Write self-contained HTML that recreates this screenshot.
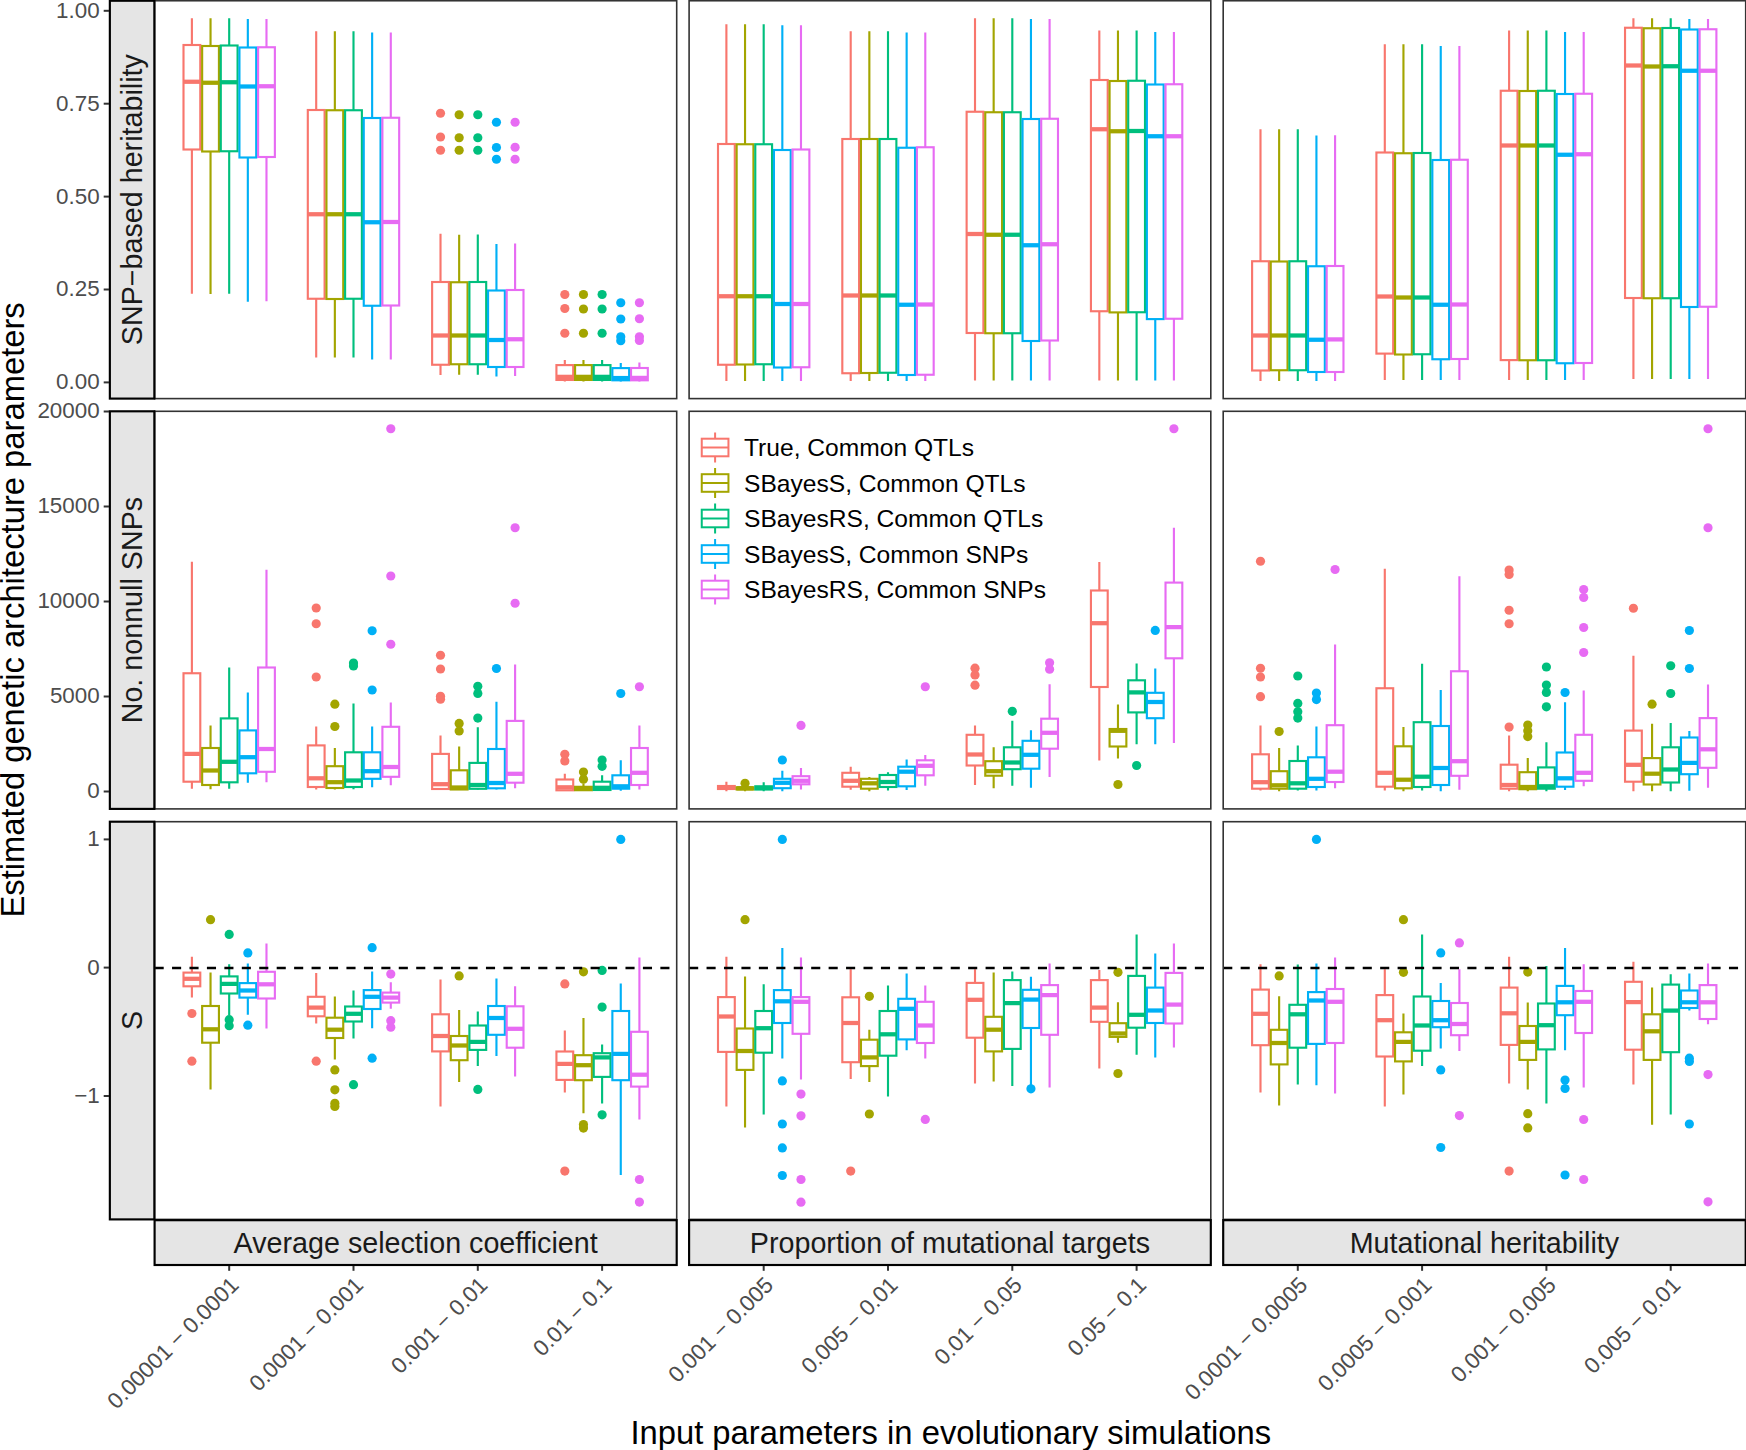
<!DOCTYPE html>
<html lang="en"><head><meta charset="utf-8"><title>Estimated genetic architecture parameters</title>
<style>html,body{margin:0;padding:0;background:#fff}svg{display:block}</style></head>
<body>
<svg width="1746" height="1450" viewBox="0 0 1746 1450" font-family="'Liberation Sans', sans-serif">
<rect width="1746" height="1450" fill="#fff"/>
<g>
<path d="M191.89 18.25V45M191.89 149.5V293.75" stroke="#F8766D" stroke-width="2.13" fill="none"/>
<rect x="183.5" y="45" width="16.78" height="104.5" fill="#fff" stroke="#F8766D" stroke-width="2.13"/>
<line x1="183.5" x2="200.28" y1="81.75" y2="81.75" stroke="#F8766D" stroke-width="4.26"/>
<path d="M210.54 18.25V46M210.54 151.5V294" stroke="#A3A500" stroke-width="2.13" fill="none"/>
<rect x="202.15" y="46" width="16.78" height="105.5" fill="#fff" stroke="#A3A500" stroke-width="2.13"/>
<line x1="202.15" x2="218.93" y1="82.75" y2="82.75" stroke="#A3A500" stroke-width="4.26"/>
<path d="M229.19 18.25V45.5M229.19 151.25V293.75" stroke="#00BF7D" stroke-width="2.13" fill="none"/>
<rect x="220.79" y="45.5" width="16.78" height="105.75" fill="#fff" stroke="#00BF7D" stroke-width="2.13"/>
<line x1="220.79" x2="237.58" y1="82.25" y2="82.25" stroke="#00BF7D" stroke-width="4.26"/>
<path d="M247.83 19V47.5M247.83 157.5V301.75" stroke="#00B0F6" stroke-width="2.13" fill="none"/>
<rect x="239.44" y="47.5" width="16.78" height="110" fill="#fff" stroke="#00B0F6" stroke-width="2.13"/>
<line x1="239.44" x2="256.22" y1="86.5" y2="86.5" stroke="#00B0F6" stroke-width="4.26"/>
<path d="M266.48 19V47.25M266.48 157V301.25" stroke="#E76BF3" stroke-width="2.13" fill="none"/>
<rect x="258.09" y="47.25" width="16.78" height="109.75" fill="#fff" stroke="#E76BF3" stroke-width="2.13"/>
<line x1="258.09" x2="274.87" y1="86.25" y2="86.25" stroke="#E76BF3" stroke-width="4.26"/>
<path d="M316.2 31.25V110M316.2 298.75V357.5" stroke="#F8766D" stroke-width="2.13" fill="none"/>
<rect x="307.81" y="110" width="16.78" height="188.75" fill="#fff" stroke="#F8766D" stroke-width="2.13"/>
<line x1="307.81" x2="324.59" y1="214.25" y2="214.25" stroke="#F8766D" stroke-width="4.26"/>
<path d="M334.85 31.25V110.25M334.85 299V357.5" stroke="#A3A500" stroke-width="2.13" fill="none"/>
<rect x="326.46" y="110.25" width="16.78" height="188.75" fill="#fff" stroke="#A3A500" stroke-width="2.13"/>
<line x1="326.46" x2="343.24" y1="214.25" y2="214.25" stroke="#A3A500" stroke-width="4.26"/>
<path d="M353.5 31.25V110.25M353.5 298.75V357.5" stroke="#00BF7D" stroke-width="2.13" fill="none"/>
<rect x="345.1" y="110.25" width="16.78" height="188.5" fill="#fff" stroke="#00BF7D" stroke-width="2.13"/>
<line x1="345.1" x2="361.89" y1="214.25" y2="214.25" stroke="#00BF7D" stroke-width="4.26"/>
<path d="M372.14 32.5V118M372.14 305.75V359.5" stroke="#00B0F6" stroke-width="2.13" fill="none"/>
<rect x="363.75" y="118" width="16.78" height="187.75" fill="#fff" stroke="#00B0F6" stroke-width="2.13"/>
<line x1="363.75" x2="380.53" y1="222.25" y2="222.25" stroke="#00B0F6" stroke-width="4.26"/>
<path d="M390.79 32.5V117.75M390.79 305.5V359.5" stroke="#E76BF3" stroke-width="2.13" fill="none"/>
<rect x="382.4" y="117.75" width="16.78" height="187.75" fill="#fff" stroke="#E76BF3" stroke-width="2.13"/>
<line x1="382.4" x2="399.18" y1="222" y2="222" stroke="#E76BF3" stroke-width="4.26"/>
<circle cx="440.51" cy="113.25" r="4.6" fill="#F8766D"/>
<circle cx="440.51" cy="137" r="4.6" fill="#F8766D"/>
<circle cx="440.51" cy="150.25" r="4.6" fill="#F8766D"/>
<path d="M440.51 233.75V282M440.51 364.75V375" stroke="#F8766D" stroke-width="2.13" fill="none"/>
<rect x="432.12" y="282" width="16.78" height="82.75" fill="#fff" stroke="#F8766D" stroke-width="2.13"/>
<line x1="432.12" x2="448.9" y1="335.5" y2="335.5" stroke="#F8766D" stroke-width="4.26"/>
<circle cx="459.16" cy="114.75" r="4.6" fill="#A3A500"/>
<circle cx="459.16" cy="137.75" r="4.6" fill="#A3A500"/>
<circle cx="459.16" cy="150.25" r="4.6" fill="#A3A500"/>
<path d="M459.16 234.75V282.25M459.16 364.25V374.75" stroke="#A3A500" stroke-width="2.13" fill="none"/>
<rect x="450.77" y="282.25" width="16.78" height="82" fill="#fff" stroke="#A3A500" stroke-width="2.13"/>
<line x1="450.77" x2="467.55" y1="335.5" y2="335.5" stroke="#A3A500" stroke-width="4.26"/>
<circle cx="477.8" cy="114.75" r="4.6" fill="#00BF7D"/>
<circle cx="477.8" cy="137.75" r="4.6" fill="#00BF7D"/>
<circle cx="477.8" cy="150.25" r="4.6" fill="#00BF7D"/>
<path d="M477.8 234.5V282M477.8 364.25V374.75" stroke="#00BF7D" stroke-width="2.13" fill="none"/>
<rect x="469.41" y="282" width="16.78" height="82.25" fill="#fff" stroke="#00BF7D" stroke-width="2.13"/>
<line x1="469.41" x2="486.2" y1="335.5" y2="335.5" stroke="#00BF7D" stroke-width="4.26"/>
<circle cx="496.45" cy="122.25" r="4.6" fill="#00B0F6"/>
<circle cx="496.45" cy="147.5" r="4.6" fill="#00B0F6"/>
<circle cx="496.45" cy="159.25" r="4.6" fill="#00B0F6"/>
<path d="M496.45 244V290.5M496.45 367V376.5" stroke="#00B0F6" stroke-width="2.13" fill="none"/>
<rect x="488.06" y="290.5" width="16.78" height="76.5" fill="#fff" stroke="#00B0F6" stroke-width="2.13"/>
<line x1="488.06" x2="504.84" y1="340" y2="340" stroke="#00B0F6" stroke-width="4.26"/>
<circle cx="515.1" cy="122.25" r="4.6" fill="#E76BF3"/>
<circle cx="515.1" cy="147.25" r="4.6" fill="#E76BF3"/>
<circle cx="515.1" cy="159.25" r="4.6" fill="#E76BF3"/>
<path d="M515.1 243.5V290M515.1 367V376" stroke="#E76BF3" stroke-width="2.13" fill="none"/>
<rect x="506.71" y="290" width="16.78" height="77" fill="#fff" stroke="#E76BF3" stroke-width="2.13"/>
<line x1="506.71" x2="523.49" y1="339.25" y2="339.25" stroke="#E76BF3" stroke-width="4.26"/>
<circle cx="564.82" cy="294.5" r="4.6" fill="#F8766D"/>
<circle cx="564.82" cy="308.5" r="4.6" fill="#F8766D"/>
<circle cx="564.82" cy="333.25" r="4.6" fill="#F8766D"/>
<path d="M564.82 360V365.1M564.82 379.95V381.4" stroke="#F8766D" stroke-width="2.13" fill="none"/>
<rect x="556.43" y="365.1" width="16.78" height="14.85" fill="#fff" stroke="#F8766D" stroke-width="2.13"/>
<line x1="556.43" x2="573.21" y1="376.85" y2="376.85" stroke="#F8766D" stroke-width="4.26"/>
<circle cx="583.47" cy="294.5" r="4.6" fill="#A3A500"/>
<circle cx="583.47" cy="309" r="4.6" fill="#A3A500"/>
<circle cx="583.47" cy="333.25" r="4.6" fill="#A3A500"/>
<path d="M583.47 360V365.1M583.47 379.95V381.4" stroke="#A3A500" stroke-width="2.13" fill="none"/>
<rect x="575.08" y="365.1" width="16.78" height="14.85" fill="#fff" stroke="#A3A500" stroke-width="2.13"/>
<line x1="575.08" x2="591.86" y1="376.85" y2="376.85" stroke="#A3A500" stroke-width="4.26"/>
<circle cx="602.11" cy="294.5" r="4.6" fill="#00BF7D"/>
<circle cx="602.11" cy="309" r="4.6" fill="#00BF7D"/>
<circle cx="602.11" cy="333.25" r="4.6" fill="#00BF7D"/>
<path d="M602.11 360V365.1M602.11 379.95V381.4" stroke="#00BF7D" stroke-width="2.13" fill="none"/>
<rect x="593.72" y="365.1" width="16.78" height="14.85" fill="#fff" stroke="#00BF7D" stroke-width="2.13"/>
<line x1="593.72" x2="610.51" y1="376.85" y2="376.85" stroke="#00BF7D" stroke-width="4.26"/>
<circle cx="620.76" cy="302.75" r="4.6" fill="#00B0F6"/>
<circle cx="620.76" cy="319" r="4.6" fill="#00B0F6"/>
<circle cx="620.76" cy="336.75" r="4.6" fill="#00B0F6"/>
<circle cx="620.76" cy="340.75" r="4.6" fill="#00B0F6"/>
<path d="M620.76 363V368.1M620.76 380.3V381.4" stroke="#00B0F6" stroke-width="2.13" fill="none"/>
<rect x="612.37" y="368.1" width="16.78" height="12.2" fill="#fff" stroke="#00B0F6" stroke-width="2.13"/>
<line x1="612.37" x2="629.15" y1="378.05" y2="378.05" stroke="#00B0F6" stroke-width="4.26"/>
<circle cx="639.41" cy="302.75" r="4.6" fill="#E76BF3"/>
<circle cx="639.41" cy="318.75" r="4.6" fill="#E76BF3"/>
<circle cx="639.41" cy="336.75" r="4.6" fill="#E76BF3"/>
<circle cx="639.41" cy="340.5" r="4.6" fill="#E76BF3"/>
<path d="M639.41 362.6V368M639.41 380.3V381.4" stroke="#E76BF3" stroke-width="2.13" fill="none"/>
<rect x="631.02" y="368" width="16.78" height="12.3" fill="#fff" stroke="#E76BF3" stroke-width="2.13"/>
<line x1="631.02" x2="647.8" y1="377.9" y2="377.9" stroke="#E76BF3" stroke-width="4.26"/>
</g>
<g>
<path d="M726.39 24.25V144M726.39 364.75V381" stroke="#F8766D" stroke-width="2.13" fill="none"/>
<rect x="718" y="144" width="16.78" height="220.75" fill="#fff" stroke="#F8766D" stroke-width="2.13"/>
<line x1="718" x2="734.78" y1="296.25" y2="296.25" stroke="#F8766D" stroke-width="4.26"/>
<path d="M745.04 24.25V144.25M745.04 364.5V381" stroke="#A3A500" stroke-width="2.13" fill="none"/>
<rect x="736.65" y="144.25" width="16.78" height="220.25" fill="#fff" stroke="#A3A500" stroke-width="2.13"/>
<line x1="736.65" x2="753.43" y1="296.25" y2="296.25" stroke="#A3A500" stroke-width="4.26"/>
<path d="M763.69 24.25V144.25M763.69 364.25V381" stroke="#00BF7D" stroke-width="2.13" fill="none"/>
<rect x="755.29" y="144.25" width="16.78" height="220" fill="#fff" stroke="#00BF7D" stroke-width="2.13"/>
<line x1="755.29" x2="772.08" y1="296.25" y2="296.25" stroke="#00BF7D" stroke-width="4.26"/>
<path d="M782.33 25.25V150M782.33 367.5V381" stroke="#00B0F6" stroke-width="2.13" fill="none"/>
<rect x="773.94" y="150" width="16.78" height="217.5" fill="#fff" stroke="#00B0F6" stroke-width="2.13"/>
<line x1="773.94" x2="790.72" y1="304" y2="304" stroke="#00B0F6" stroke-width="4.26"/>
<path d="M800.98 25.25V149.5M800.98 367.25V381" stroke="#E76BF3" stroke-width="2.13" fill="none"/>
<rect x="792.59" y="149.5" width="16.78" height="217.75" fill="#fff" stroke="#E76BF3" stroke-width="2.13"/>
<line x1="792.59" x2="809.37" y1="304" y2="304" stroke="#E76BF3" stroke-width="4.26"/>
<path d="M850.7 31.25V139M850.7 373.25V381" stroke="#F8766D" stroke-width="2.13" fill="none"/>
<rect x="842.31" y="139" width="16.78" height="234.25" fill="#fff" stroke="#F8766D" stroke-width="2.13"/>
<line x1="842.31" x2="859.09" y1="295.5" y2="295.5" stroke="#F8766D" stroke-width="4.26"/>
<path d="M869.35 31.25V139M869.35 373V381" stroke="#A3A500" stroke-width="2.13" fill="none"/>
<rect x="860.96" y="139" width="16.78" height="234" fill="#fff" stroke="#A3A500" stroke-width="2.13"/>
<line x1="860.96" x2="877.74" y1="295.5" y2="295.5" stroke="#A3A500" stroke-width="4.26"/>
<path d="M888 31.25V139M888 372.75V381" stroke="#00BF7D" stroke-width="2.13" fill="none"/>
<rect x="879.6" y="139" width="16.78" height="233.75" fill="#fff" stroke="#00BF7D" stroke-width="2.13"/>
<line x1="879.6" x2="896.39" y1="295.5" y2="295.5" stroke="#00BF7D" stroke-width="4.26"/>
<path d="M906.64 32.5V147.75M906.64 375V381" stroke="#00B0F6" stroke-width="2.13" fill="none"/>
<rect x="898.25" y="147.75" width="16.78" height="227.25" fill="#fff" stroke="#00B0F6" stroke-width="2.13"/>
<line x1="898.25" x2="915.03" y1="304.75" y2="304.75" stroke="#00B0F6" stroke-width="4.26"/>
<path d="M925.29 32.5V147.25M925.29 374.75V381" stroke="#E76BF3" stroke-width="2.13" fill="none"/>
<rect x="916.9" y="147.25" width="16.78" height="227.5" fill="#fff" stroke="#E76BF3" stroke-width="2.13"/>
<line x1="916.9" x2="933.68" y1="304.5" y2="304.5" stroke="#E76BF3" stroke-width="4.26"/>
<path d="M975.01 18.25V111.75M975.01 333V380.5" stroke="#F8766D" stroke-width="2.13" fill="none"/>
<rect x="966.62" y="111.75" width="16.78" height="221.25" fill="#fff" stroke="#F8766D" stroke-width="2.13"/>
<line x1="966.62" x2="983.4" y1="234" y2="234" stroke="#F8766D" stroke-width="4.26"/>
<path d="M993.66 18.25V112.25M993.66 333.25V380.5" stroke="#A3A500" stroke-width="2.13" fill="none"/>
<rect x="985.27" y="112.25" width="16.78" height="221" fill="#fff" stroke="#A3A500" stroke-width="2.13"/>
<line x1="985.27" x2="1002.05" y1="234.75" y2="234.75" stroke="#A3A500" stroke-width="4.26"/>
<path d="M1012.3 18.25V112.25M1012.3 333.25V380.5" stroke="#00BF7D" stroke-width="2.13" fill="none"/>
<rect x="1003.91" y="112.25" width="16.78" height="221" fill="#fff" stroke="#00BF7D" stroke-width="2.13"/>
<line x1="1003.91" x2="1020.7" y1="234.75" y2="234.75" stroke="#00BF7D" stroke-width="4.26"/>
<path d="M1030.95 19V119M1030.95 341V380.5" stroke="#00B0F6" stroke-width="2.13" fill="none"/>
<rect x="1022.56" y="119" width="16.78" height="222" fill="#fff" stroke="#00B0F6" stroke-width="2.13"/>
<line x1="1022.56" x2="1039.34" y1="245.25" y2="245.25" stroke="#00B0F6" stroke-width="4.26"/>
<path d="M1049.6 19V118.75M1049.6 340.5V380.5" stroke="#E76BF3" stroke-width="2.13" fill="none"/>
<rect x="1041.21" y="118.75" width="16.78" height="221.75" fill="#fff" stroke="#E76BF3" stroke-width="2.13"/>
<line x1="1041.21" x2="1057.99" y1="244.25" y2="244.25" stroke="#E76BF3" stroke-width="4.26"/>
<path d="M1099.32 30.5V80M1099.32 311.25V380.5" stroke="#F8766D" stroke-width="2.13" fill="none"/>
<rect x="1090.93" y="80" width="16.78" height="231.25" fill="#fff" stroke="#F8766D" stroke-width="2.13"/>
<line x1="1090.93" x2="1107.71" y1="129.25" y2="129.25" stroke="#F8766D" stroke-width="4.26"/>
<path d="M1117.97 30.5V81M1117.97 312.4V380.5" stroke="#A3A500" stroke-width="2.13" fill="none"/>
<rect x="1109.58" y="81" width="16.78" height="231.4" fill="#fff" stroke="#A3A500" stroke-width="2.13"/>
<line x1="1109.58" x2="1126.36" y1="131.25" y2="131.25" stroke="#A3A500" stroke-width="4.26"/>
<path d="M1136.61 30.5V80.75M1136.61 312.25V380.5" stroke="#00BF7D" stroke-width="2.13" fill="none"/>
<rect x="1128.22" y="80.75" width="16.78" height="231.5" fill="#fff" stroke="#00BF7D" stroke-width="2.13"/>
<line x1="1128.22" x2="1145.01" y1="131" y2="131" stroke="#00BF7D" stroke-width="4.26"/>
<path d="M1155.26 32V84.5M1155.26 319.1V380.5" stroke="#00B0F6" stroke-width="2.13" fill="none"/>
<rect x="1146.87" y="84.5" width="16.78" height="234.6" fill="#fff" stroke="#00B0F6" stroke-width="2.13"/>
<line x1="1146.87" x2="1163.65" y1="136.25" y2="136.25" stroke="#00B0F6" stroke-width="4.26"/>
<path d="M1173.91 32V84.25M1173.91 318.75V380.5" stroke="#E76BF3" stroke-width="2.13" fill="none"/>
<rect x="1165.52" y="84.25" width="16.78" height="234.5" fill="#fff" stroke="#E76BF3" stroke-width="2.13"/>
<line x1="1165.52" x2="1182.3" y1="136.25" y2="136.25" stroke="#E76BF3" stroke-width="4.26"/>
</g>
<g>
<path d="M1260.49 129.25V261.25M1260.49 370.5V381" stroke="#F8766D" stroke-width="2.13" fill="none"/>
<rect x="1252.1" y="261.25" width="16.78" height="109.25" fill="#fff" stroke="#F8766D" stroke-width="2.13"/>
<line x1="1252.1" x2="1268.88" y1="335.5" y2="335.5" stroke="#F8766D" stroke-width="4.26"/>
<path d="M1279.14 129.25V261.5M1279.14 370.25V381" stroke="#A3A500" stroke-width="2.13" fill="none"/>
<rect x="1270.75" y="261.5" width="16.78" height="108.75" fill="#fff" stroke="#A3A500" stroke-width="2.13"/>
<line x1="1270.75" x2="1287.53" y1="335.5" y2="335.5" stroke="#A3A500" stroke-width="4.26"/>
<path d="M1297.79 129.25V261.25M1297.79 370.25V381" stroke="#00BF7D" stroke-width="2.13" fill="none"/>
<rect x="1289.39" y="261.25" width="16.78" height="109" fill="#fff" stroke="#00BF7D" stroke-width="2.13"/>
<line x1="1289.39" x2="1306.18" y1="335.5" y2="335.5" stroke="#00BF7D" stroke-width="4.26"/>
<path d="M1316.43 135.5V266.25M1316.43 372V381" stroke="#00B0F6" stroke-width="2.13" fill="none"/>
<rect x="1308.04" y="266.25" width="16.78" height="105.75" fill="#fff" stroke="#00B0F6" stroke-width="2.13"/>
<line x1="1308.04" x2="1324.82" y1="339.75" y2="339.75" stroke="#00B0F6" stroke-width="4.26"/>
<path d="M1335.08 135.25V266M1335.08 372V381" stroke="#E76BF3" stroke-width="2.13" fill="none"/>
<rect x="1326.69" y="266" width="16.78" height="106" fill="#fff" stroke="#E76BF3" stroke-width="2.13"/>
<line x1="1326.69" x2="1343.47" y1="339.4" y2="339.4" stroke="#E76BF3" stroke-width="4.26"/>
<path d="M1384.8 44.25V152.5M1384.8 353.6V380" stroke="#F8766D" stroke-width="2.13" fill="none"/>
<rect x="1376.41" y="152.5" width="16.78" height="201.1" fill="#fff" stroke="#F8766D" stroke-width="2.13"/>
<line x1="1376.41" x2="1393.19" y1="296.5" y2="296.5" stroke="#F8766D" stroke-width="4.26"/>
<path d="M1403.45 44.25V153.25M1403.45 354.5V380" stroke="#A3A500" stroke-width="2.13" fill="none"/>
<rect x="1395.06" y="153.25" width="16.78" height="201.25" fill="#fff" stroke="#A3A500" stroke-width="2.13"/>
<line x1="1395.06" x2="1411.84" y1="297.5" y2="297.5" stroke="#A3A500" stroke-width="4.26"/>
<path d="M1422.1 44.25V153M1422.1 354.25V380" stroke="#00BF7D" stroke-width="2.13" fill="none"/>
<rect x="1413.7" y="153" width="16.78" height="201.25" fill="#fff" stroke="#00BF7D" stroke-width="2.13"/>
<line x1="1413.7" x2="1430.49" y1="297.5" y2="297.5" stroke="#00BF7D" stroke-width="4.26"/>
<path d="M1440.74 46V160M1440.74 359.25V380" stroke="#00B0F6" stroke-width="2.13" fill="none"/>
<rect x="1432.35" y="160" width="16.78" height="199.25" fill="#fff" stroke="#00B0F6" stroke-width="2.13"/>
<line x1="1432.35" x2="1449.13" y1="304.75" y2="304.75" stroke="#00B0F6" stroke-width="4.26"/>
<path d="M1459.39 46V159.75M1459.39 359V380" stroke="#E76BF3" stroke-width="2.13" fill="none"/>
<rect x="1451" y="159.75" width="16.78" height="199.25" fill="#fff" stroke="#E76BF3" stroke-width="2.13"/>
<line x1="1451" x2="1467.78" y1="304.5" y2="304.5" stroke="#E76BF3" stroke-width="4.26"/>
<path d="M1509.11 30.5V90.75M1509.11 360.1V380" stroke="#F8766D" stroke-width="2.13" fill="none"/>
<rect x="1500.72" y="90.75" width="16.78" height="269.35" fill="#fff" stroke="#F8766D" stroke-width="2.13"/>
<line x1="1500.72" x2="1517.5" y1="145.5" y2="145.5" stroke="#F8766D" stroke-width="4.26"/>
<path d="M1527.76 30.5V91M1527.76 360.25V380" stroke="#A3A500" stroke-width="2.13" fill="none"/>
<rect x="1519.37" y="91" width="16.78" height="269.25" fill="#fff" stroke="#A3A500" stroke-width="2.13"/>
<line x1="1519.37" x2="1536.15" y1="145.5" y2="145.5" stroke="#A3A500" stroke-width="4.26"/>
<path d="M1546.4 30.5V90.75M1546.4 360.25V380" stroke="#00BF7D" stroke-width="2.13" fill="none"/>
<rect x="1538.01" y="90.75" width="16.78" height="269.5" fill="#fff" stroke="#00BF7D" stroke-width="2.13"/>
<line x1="1538.01" x2="1554.8" y1="145.5" y2="145.5" stroke="#00BF7D" stroke-width="4.26"/>
<path d="M1565.05 32V94M1565.05 363.25V380" stroke="#00B0F6" stroke-width="2.13" fill="none"/>
<rect x="1556.66" y="94" width="16.78" height="269.25" fill="#fff" stroke="#00B0F6" stroke-width="2.13"/>
<line x1="1556.66" x2="1573.44" y1="154.75" y2="154.75" stroke="#00B0F6" stroke-width="4.26"/>
<path d="M1583.7 32V93.75M1583.7 363V380" stroke="#E76BF3" stroke-width="2.13" fill="none"/>
<rect x="1575.31" y="93.75" width="16.78" height="269.25" fill="#fff" stroke="#E76BF3" stroke-width="2.13"/>
<line x1="1575.31" x2="1592.09" y1="154.25" y2="154.25" stroke="#E76BF3" stroke-width="4.26"/>
<path d="M1633.42 18.25V27.75M1633.42 298V379" stroke="#F8766D" stroke-width="2.13" fill="none"/>
<rect x="1625.03" y="27.75" width="16.78" height="270.25" fill="#fff" stroke="#F8766D" stroke-width="2.13"/>
<line x1="1625.03" x2="1641.81" y1="65.5" y2="65.5" stroke="#F8766D" stroke-width="4.26"/>
<path d="M1652.07 18.25V28.25M1652.07 298.25V379" stroke="#A3A500" stroke-width="2.13" fill="none"/>
<rect x="1643.68" y="28.25" width="16.78" height="270" fill="#fff" stroke="#A3A500" stroke-width="2.13"/>
<line x1="1643.68" x2="1660.46" y1="66.5" y2="66.5" stroke="#A3A500" stroke-width="4.26"/>
<path d="M1670.71 18.25V28M1670.71 298.25V379" stroke="#00BF7D" stroke-width="2.13" fill="none"/>
<rect x="1662.32" y="28" width="16.78" height="270.25" fill="#fff" stroke="#00BF7D" stroke-width="2.13"/>
<line x1="1662.32" x2="1679.11" y1="66.25" y2="66.25" stroke="#00BF7D" stroke-width="4.26"/>
<path d="M1689.36 19V29.5M1689.36 307V379" stroke="#00B0F6" stroke-width="2.13" fill="none"/>
<rect x="1680.97" y="29.5" width="16.78" height="277.5" fill="#fff" stroke="#00B0F6" stroke-width="2.13"/>
<line x1="1680.97" x2="1697.75" y1="70.75" y2="70.75" stroke="#00B0F6" stroke-width="4.26"/>
<path d="M1708.01 19V29.25M1708.01 306.75V379" stroke="#E76BF3" stroke-width="2.13" fill="none"/>
<rect x="1699.62" y="29.25" width="16.78" height="277.5" fill="#fff" stroke="#E76BF3" stroke-width="2.13"/>
<line x1="1699.62" x2="1716.4" y1="70.75" y2="70.75" stroke="#E76BF3" stroke-width="4.26"/>
</g>
<g>
<path d="M191.89 561.75V673.25M191.89 781.7V788.8" stroke="#F8766D" stroke-width="2.13" fill="none"/>
<rect x="183.5" y="673.25" width="16.78" height="108.45" fill="#fff" stroke="#F8766D" stroke-width="2.13"/>
<line x1="183.5" x2="200.28" y1="753.9" y2="753.9" stroke="#F8766D" stroke-width="4.26"/>
<path d="M210.54 725.5V748M210.54 785V789.2" stroke="#A3A500" stroke-width="2.13" fill="none"/>
<rect x="202.15" y="748" width="16.78" height="37" fill="#fff" stroke="#A3A500" stroke-width="2.13"/>
<line x1="202.15" x2="218.93" y1="770.5" y2="770.5" stroke="#A3A500" stroke-width="4.26"/>
<path d="M229.19 667.5V718.4M229.19 782.3V788.8" stroke="#00BF7D" stroke-width="2.13" fill="none"/>
<rect x="220.79" y="718.4" width="16.78" height="63.9" fill="#fff" stroke="#00BF7D" stroke-width="2.13"/>
<line x1="220.79" x2="237.58" y1="761.8" y2="761.8" stroke="#00BF7D" stroke-width="4.26"/>
<path d="M247.83 692.5V730.4M247.83 773.3V782.7" stroke="#00B0F6" stroke-width="2.13" fill="none"/>
<rect x="239.44" y="730.4" width="16.78" height="42.9" fill="#fff" stroke="#00B0F6" stroke-width="2.13"/>
<line x1="239.44" x2="256.22" y1="757.2" y2="757.2" stroke="#00B0F6" stroke-width="4.26"/>
<path d="M266.48 569.75V667.5M266.48 771.8V782.2" stroke="#E76BF3" stroke-width="2.13" fill="none"/>
<rect x="258.09" y="667.5" width="16.78" height="104.3" fill="#fff" stroke="#E76BF3" stroke-width="2.13"/>
<line x1="258.09" x2="274.87" y1="749" y2="749" stroke="#E76BF3" stroke-width="4.26"/>
<circle cx="316.2" cy="608" r="4.6" fill="#F8766D"/>
<circle cx="316.2" cy="623.75" r="4.6" fill="#F8766D"/>
<circle cx="316.2" cy="677" r="4.6" fill="#F8766D"/>
<path d="M316.2 726.6V745.4M316.2 787V789.5" stroke="#F8766D" stroke-width="2.13" fill="none"/>
<rect x="307.81" y="745.4" width="16.78" height="41.6" fill="#fff" stroke="#F8766D" stroke-width="2.13"/>
<line x1="307.81" x2="324.59" y1="778.3" y2="778.3" stroke="#F8766D" stroke-width="4.26"/>
<circle cx="334.85" cy="704.2" r="4.6" fill="#A3A500"/>
<circle cx="334.85" cy="726.5" r="4.6" fill="#A3A500"/>
<path d="M334.85 748V766.2M334.85 788V789.5" stroke="#A3A500" stroke-width="2.13" fill="none"/>
<rect x="326.46" y="766.2" width="16.78" height="21.8" fill="#fff" stroke="#A3A500" stroke-width="2.13"/>
<line x1="326.46" x2="343.24" y1="782.2" y2="782.2" stroke="#A3A500" stroke-width="4.26"/>
<circle cx="353.5" cy="663" r="4.6" fill="#00BF7D"/>
<circle cx="353.5" cy="666" r="4.6" fill="#00BF7D"/>
<path d="M353.5 703.5V752.3M353.5 787V789.3" stroke="#00BF7D" stroke-width="2.13" fill="none"/>
<rect x="345.1" y="752.3" width="16.78" height="34.7" fill="#fff" stroke="#00BF7D" stroke-width="2.13"/>
<line x1="345.1" x2="361.89" y1="780.5" y2="780.5" stroke="#00BF7D" stroke-width="4.26"/>
<circle cx="372.14" cy="630.75" r="4.6" fill="#00B0F6"/>
<circle cx="372.14" cy="690" r="4.6" fill="#00B0F6"/>
<path d="M372.14 726.6V752.3M372.14 778.8V787.2" stroke="#00B0F6" stroke-width="2.13" fill="none"/>
<rect x="363.75" y="752.3" width="16.78" height="26.5" fill="#fff" stroke="#00B0F6" stroke-width="2.13"/>
<line x1="363.75" x2="380.53" y1="771.2" y2="771.2" stroke="#00B0F6" stroke-width="4.26"/>
<circle cx="390.79" cy="428.75" r="4.6" fill="#E76BF3"/>
<circle cx="390.79" cy="576" r="4.6" fill="#E76BF3"/>
<circle cx="390.79" cy="644.25" r="4.6" fill="#E76BF3"/>
<path d="M390.79 702.4V726.8M390.79 776.8V785.3" stroke="#E76BF3" stroke-width="2.13" fill="none"/>
<rect x="382.4" y="726.8" width="16.78" height="50" fill="#fff" stroke="#E76BF3" stroke-width="2.13"/>
<line x1="382.4" x2="399.18" y1="767" y2="767" stroke="#E76BF3" stroke-width="4.26"/>
<circle cx="440.51" cy="655.25" r="4.6" fill="#F8766D"/>
<circle cx="440.51" cy="669" r="4.6" fill="#F8766D"/>
<circle cx="440.51" cy="696.25" r="4.6" fill="#F8766D"/>
<circle cx="440.51" cy="699.25" r="4.6" fill="#F8766D"/>
<path d="M440.51 735.5V753.9M440.51 789V789.6" stroke="#F8766D" stroke-width="2.13" fill="none"/>
<rect x="432.12" y="753.9" width="16.78" height="35.1" fill="#fff" stroke="#F8766D" stroke-width="2.13"/>
<line x1="432.12" x2="448.9" y1="784.2" y2="784.2" stroke="#F8766D" stroke-width="4.26"/>
<circle cx="459.16" cy="723.4" r="4.6" fill="#A3A500"/>
<circle cx="459.16" cy="731" r="4.6" fill="#A3A500"/>
<path d="M459.16 746.4V770.3M459.16 789.5V790" stroke="#A3A500" stroke-width="2.13" fill="none"/>
<rect x="450.77" y="770.3" width="16.78" height="19.2" fill="#fff" stroke="#A3A500" stroke-width="2.13"/>
<line x1="450.77" x2="467.55" y1="787.5" y2="787.5" stroke="#A3A500" stroke-width="4.26"/>
<circle cx="477.8" cy="686.25" r="4.6" fill="#00BF7D"/>
<circle cx="477.8" cy="693.5" r="4.6" fill="#00BF7D"/>
<circle cx="477.8" cy="718.1" r="4.6" fill="#00BF7D"/>
<path d="M477.8 727.2V762.9M477.8 788.8V789.6" stroke="#00BF7D" stroke-width="2.13" fill="none"/>
<rect x="469.41" y="762.9" width="16.78" height="25.9" fill="#fff" stroke="#00BF7D" stroke-width="2.13"/>
<line x1="469.41" x2="486.2" y1="785" y2="785" stroke="#00BF7D" stroke-width="4.26"/>
<circle cx="496.45" cy="668.5" r="4.6" fill="#00B0F6"/>
<path d="M496.45 701.8V749M496.45 788.3V789.5" stroke="#00B0F6" stroke-width="2.13" fill="none"/>
<rect x="488.06" y="749" width="16.78" height="39.3" fill="#fff" stroke="#00B0F6" stroke-width="2.13"/>
<line x1="488.06" x2="504.84" y1="783" y2="783" stroke="#00B0F6" stroke-width="4.26"/>
<circle cx="515.1" cy="527.75" r="4.6" fill="#E76BF3"/>
<circle cx="515.1" cy="603.25" r="4.6" fill="#E76BF3"/>
<path d="M515.1 664.5V720.9M515.1 782.7V788.3" stroke="#E76BF3" stroke-width="2.13" fill="none"/>
<rect x="506.71" y="720.9" width="16.78" height="61.8" fill="#fff" stroke="#E76BF3" stroke-width="2.13"/>
<line x1="506.71" x2="523.49" y1="773.8" y2="773.8" stroke="#E76BF3" stroke-width="4.26"/>
<circle cx="564.82" cy="754.3" r="4.6" fill="#F8766D"/>
<circle cx="564.82" cy="761" r="4.6" fill="#F8766D"/>
<path d="M564.82 773.8V779.5M564.82 790.3V790.8" stroke="#F8766D" stroke-width="2.13" fill="none"/>
<rect x="556.43" y="779.5" width="16.78" height="10.8" fill="#fff" stroke="#F8766D" stroke-width="2.13"/>
<line x1="556.43" x2="573.21" y1="787.3" y2="787.3" stroke="#F8766D" stroke-width="4.26"/>
<circle cx="583.47" cy="772" r="4.6" fill="#A3A500"/>
<circle cx="583.47" cy="779.2" r="4.6" fill="#A3A500"/>
<path d="M583.47 783.5V786.8M583.47 790.2V790.8" stroke="#A3A500" stroke-width="2.13" fill="none"/>
<rect x="575.08" y="786.8" width="16.78" height="3.4" fill="#fff" stroke="#A3A500" stroke-width="2.13"/>
<line x1="575.08" x2="591.86" y1="788.7" y2="788.7" stroke="#A3A500" stroke-width="4.26"/>
<circle cx="602.11" cy="760" r="4.6" fill="#00BF7D"/>
<circle cx="602.11" cy="766.3" r="4.6" fill="#00BF7D"/>
<path d="M602.11 775.3V781.7M602.11 790V790.8" stroke="#00BF7D" stroke-width="2.13" fill="none"/>
<rect x="593.72" y="781.7" width="16.78" height="8.3" fill="#fff" stroke="#00BF7D" stroke-width="2.13"/>
<line x1="593.72" x2="610.51" y1="787.8" y2="787.8" stroke="#00BF7D" stroke-width="4.26"/>
<circle cx="620.76" cy="693.5" r="4.6" fill="#00B0F6"/>
<path d="M620.76 760.3V775.3M620.76 788.7V790.8" stroke="#00B0F6" stroke-width="2.13" fill="none"/>
<rect x="612.37" y="775.3" width="16.78" height="13.4" fill="#fff" stroke="#00B0F6" stroke-width="2.13"/>
<line x1="612.37" x2="629.15" y1="786.3" y2="786.3" stroke="#00B0F6" stroke-width="4.26"/>
<circle cx="639.41" cy="686.75" r="4.6" fill="#E76BF3"/>
<path d="M639.41 725.6V748M639.41 785V789.5" stroke="#E76BF3" stroke-width="2.13" fill="none"/>
<rect x="631.02" y="748" width="16.78" height="37" fill="#fff" stroke="#E76BF3" stroke-width="2.13"/>
<line x1="631.02" x2="647.8" y1="772.8" y2="772.8" stroke="#E76BF3" stroke-width="4.26"/>
</g>
<g>
<path d="M726.39 781.7V786M726.39 789V791.2" stroke="#F8766D" stroke-width="2.13" fill="none"/>
<rect x="718" y="786" width="16.78" height="3" fill="#fff" stroke="#F8766D" stroke-width="2.13"/>
<line x1="718" x2="734.78" y1="787.5" y2="787.5" stroke="#F8766D" stroke-width="4.26"/>
<circle cx="745.04" cy="783.3" r="4.6" fill="#A3A500"/>
<path d="M745.04 783V787.3M745.04 789.5V791.2" stroke="#A3A500" stroke-width="2.13" fill="none"/>
<rect x="736.65" y="787.3" width="16.78" height="2.2" fill="#fff" stroke="#A3A500" stroke-width="2.13"/>
<line x1="736.65" x2="753.43" y1="788.3" y2="788.3" stroke="#A3A500" stroke-width="4.26"/>
<path d="M763.69 782.2V786.3M763.69 789.5V791.2" stroke="#00BF7D" stroke-width="2.13" fill="none"/>
<rect x="755.29" y="786.3" width="16.78" height="3.2" fill="#fff" stroke="#00BF7D" stroke-width="2.13"/>
<line x1="755.29" x2="772.08" y1="788" y2="788" stroke="#00BF7D" stroke-width="4.26"/>
<circle cx="782.33" cy="760" r="4.6" fill="#00B0F6"/>
<path d="M782.33 770.8V778.8M782.33 788.2V791.2" stroke="#00B0F6" stroke-width="2.13" fill="none"/>
<rect x="773.94" y="778.8" width="16.78" height="9.4" fill="#fff" stroke="#00B0F6" stroke-width="2.13"/>
<line x1="773.94" x2="790.72" y1="782.8" y2="782.8" stroke="#00B0F6" stroke-width="4.26"/>
<circle cx="800.98" cy="725.4" r="4.6" fill="#E76BF3"/>
<path d="M800.98 768V776.2M800.98 784.3V789.5" stroke="#E76BF3" stroke-width="2.13" fill="none"/>
<rect x="792.59" y="776.2" width="16.78" height="8.1" fill="#fff" stroke="#E76BF3" stroke-width="2.13"/>
<line x1="792.59" x2="809.37" y1="780.8" y2="780.8" stroke="#E76BF3" stroke-width="4.26"/>
<path d="M850.7 766.7V772.8M850.7 786.7V789.7" stroke="#F8766D" stroke-width="2.13" fill="none"/>
<rect x="842.31" y="772.8" width="16.78" height="13.9" fill="#fff" stroke="#F8766D" stroke-width="2.13"/>
<line x1="842.31" x2="859.09" y1="780.8" y2="780.8" stroke="#F8766D" stroke-width="4.26"/>
<path d="M869.35 777V778.8M869.35 788.7V791.2" stroke="#A3A500" stroke-width="2.13" fill="none"/>
<rect x="860.96" y="778.8" width="16.78" height="9.9" fill="#fff" stroke="#A3A500" stroke-width="2.13"/>
<line x1="860.96" x2="877.74" y1="783.3" y2="783.3" stroke="#A3A500" stroke-width="4.26"/>
<path d="M888 772.2V775M888 787V790.5" stroke="#00BF7D" stroke-width="2.13" fill="none"/>
<rect x="879.6" y="775" width="16.78" height="12" fill="#fff" stroke="#00BF7D" stroke-width="2.13"/>
<line x1="879.6" x2="896.39" y1="782" y2="782" stroke="#00BF7D" stroke-width="4.26"/>
<path d="M906.64 759.5V766.7M906.64 786.3V790" stroke="#00B0F6" stroke-width="2.13" fill="none"/>
<rect x="898.25" y="766.7" width="16.78" height="19.6" fill="#fff" stroke="#00B0F6" stroke-width="2.13"/>
<line x1="898.25" x2="915.03" y1="771.7" y2="771.7" stroke="#00B0F6" stroke-width="4.26"/>
<circle cx="925.29" cy="686.75" r="4.6" fill="#E76BF3"/>
<path d="M925.29 755V760.3M925.29 775.3V785.8" stroke="#E76BF3" stroke-width="2.13" fill="none"/>
<rect x="916.9" y="760.3" width="16.78" height="15" fill="#fff" stroke="#E76BF3" stroke-width="2.13"/>
<line x1="916.9" x2="933.68" y1="765.8" y2="765.8" stroke="#E76BF3" stroke-width="4.26"/>
<circle cx="975.01" cy="668.2" r="4.6" fill="#F8766D"/>
<circle cx="975.01" cy="674.9" r="4.6" fill="#F8766D"/>
<circle cx="975.01" cy="685.2" r="4.6" fill="#F8766D"/>
<path d="M975.01 725.5V734.8M975.01 765.5V785.1" stroke="#F8766D" stroke-width="2.13" fill="none"/>
<rect x="966.62" y="734.8" width="16.78" height="30.7" fill="#fff" stroke="#F8766D" stroke-width="2.13"/>
<line x1="966.62" x2="983.4" y1="754.5" y2="754.5" stroke="#F8766D" stroke-width="4.26"/>
<path d="M993.66 747.3V761.2M993.66 775.7V788.2" stroke="#A3A500" stroke-width="2.13" fill="none"/>
<rect x="985.27" y="761.2" width="16.78" height="14.5" fill="#fff" stroke="#A3A500" stroke-width="2.13"/>
<line x1="985.27" x2="1002.05" y1="771.2" y2="771.2" stroke="#A3A500" stroke-width="4.26"/>
<circle cx="1012.3" cy="711.3" r="4.6" fill="#00BF7D"/>
<path d="M1012.3 720.7V747.3M1012.3 769.2V785.7" stroke="#00BF7D" stroke-width="2.13" fill="none"/>
<rect x="1003.91" y="747.3" width="16.78" height="21.9" fill="#fff" stroke="#00BF7D" stroke-width="2.13"/>
<line x1="1003.91" x2="1020.7" y1="762.5" y2="762.5" stroke="#00BF7D" stroke-width="4.26"/>
<path d="M1030.95 730.3V740.8M1030.95 768.7V787.8" stroke="#00B0F6" stroke-width="2.13" fill="none"/>
<rect x="1022.56" y="740.8" width="16.78" height="27.9" fill="#fff" stroke="#00B0F6" stroke-width="2.13"/>
<line x1="1022.56" x2="1039.34" y1="754.8" y2="754.8" stroke="#00B0F6" stroke-width="4.26"/>
<circle cx="1049.6" cy="662.8" r="4.6" fill="#E76BF3"/>
<circle cx="1049.6" cy="669.2" r="4.6" fill="#E76BF3"/>
<path d="M1049.6 684.2V718.7M1049.6 748.7V777" stroke="#E76BF3" stroke-width="2.13" fill="none"/>
<rect x="1041.21" y="718.7" width="16.78" height="30" fill="#fff" stroke="#E76BF3" stroke-width="2.13"/>
<line x1="1041.21" x2="1057.99" y1="732.8" y2="732.8" stroke="#E76BF3" stroke-width="4.26"/>
<path d="M1099.32 561.9V590.5M1099.32 687V760.4" stroke="#F8766D" stroke-width="2.13" fill="none"/>
<rect x="1090.93" y="590.5" width="16.78" height="96.5" fill="#fff" stroke="#F8766D" stroke-width="2.13"/>
<line x1="1090.93" x2="1107.71" y1="623.2" y2="623.2" stroke="#F8766D" stroke-width="4.26"/>
<circle cx="1117.97" cy="784.5" r="4.6" fill="#A3A500"/>
<path d="M1117.97 704.5V729M1117.97 746.5V758.5" stroke="#A3A500" stroke-width="2.13" fill="none"/>
<rect x="1109.58" y="729" width="16.78" height="17.5" fill="#fff" stroke="#A3A500" stroke-width="2.13"/>
<line x1="1109.58" x2="1126.36" y1="730.8" y2="730.8" stroke="#A3A500" stroke-width="4.26"/>
<circle cx="1136.61" cy="765.5" r="4.6" fill="#00BF7D"/>
<path d="M1136.61 663.5V680.3M1136.61 712.4V744.3" stroke="#00BF7D" stroke-width="2.13" fill="none"/>
<rect x="1128.22" y="680.3" width="16.78" height="32.1" fill="#fff" stroke="#00BF7D" stroke-width="2.13"/>
<line x1="1128.22" x2="1145.01" y1="692.4" y2="692.4" stroke="#00BF7D" stroke-width="4.26"/>
<circle cx="1155.26" cy="630.4" r="4.6" fill="#00B0F6"/>
<path d="M1155.26 668.5V692.8M1155.26 718.2V744.3" stroke="#00B0F6" stroke-width="2.13" fill="none"/>
<rect x="1146.87" y="692.8" width="16.78" height="25.4" fill="#fff" stroke="#00B0F6" stroke-width="2.13"/>
<line x1="1146.87" x2="1163.65" y1="702" y2="702" stroke="#00B0F6" stroke-width="4.26"/>
<circle cx="1173.91" cy="428.75" r="4.6" fill="#E76BF3"/>
<path d="M1173.91 527.75V582.6M1173.91 658.3V742.9" stroke="#E76BF3" stroke-width="2.13" fill="none"/>
<rect x="1165.52" y="582.6" width="16.78" height="75.7" fill="#fff" stroke="#E76BF3" stroke-width="2.13"/>
<line x1="1165.52" x2="1182.3" y1="627.1" y2="627.1" stroke="#E76BF3" stroke-width="4.26"/>
</g>
<g>
<circle cx="1260.49" cy="561.25" r="4.6" fill="#F8766D"/>
<circle cx="1260.49" cy="668.25" r="4.6" fill="#F8766D"/>
<circle cx="1260.49" cy="677" r="4.6" fill="#F8766D"/>
<circle cx="1260.49" cy="696.7" r="4.6" fill="#F8766D"/>
<path d="M1260.49 725.6V754.3M1260.49 788.7V790.5" stroke="#F8766D" stroke-width="2.13" fill="none"/>
<rect x="1252.1" y="754.3" width="16.78" height="34.4" fill="#fff" stroke="#F8766D" stroke-width="2.13"/>
<line x1="1252.1" x2="1268.88" y1="782.2" y2="782.2" stroke="#F8766D" stroke-width="4.26"/>
<circle cx="1279.14" cy="731.5" r="4.6" fill="#A3A500"/>
<path d="M1279.14 747.9V771.2M1279.14 788.7V791.2" stroke="#A3A500" stroke-width="2.13" fill="none"/>
<rect x="1270.75" y="771.2" width="16.78" height="17.5" fill="#fff" stroke="#A3A500" stroke-width="2.13"/>
<line x1="1270.75" x2="1287.53" y1="785.3" y2="785.3" stroke="#A3A500" stroke-width="4.26"/>
<circle cx="1297.79" cy="676" r="4.6" fill="#00BF7D"/>
<circle cx="1297.79" cy="703.4" r="4.6" fill="#00BF7D"/>
<circle cx="1297.79" cy="711.8" r="4.6" fill="#00BF7D"/>
<circle cx="1297.79" cy="718.1" r="4.6" fill="#00BF7D"/>
<path d="M1297.79 745.4V761M1297.79 788.7V790.5" stroke="#00BF7D" stroke-width="2.13" fill="none"/>
<rect x="1289.39" y="761" width="16.78" height="27.7" fill="#fff" stroke="#00BF7D" stroke-width="2.13"/>
<line x1="1289.39" x2="1306.18" y1="783.3" y2="783.3" stroke="#00BF7D" stroke-width="4.26"/>
<circle cx="1316.43" cy="693.1" r="4.6" fill="#00B0F6"/>
<circle cx="1316.43" cy="699.6" r="4.6" fill="#00B0F6"/>
<path d="M1316.43 726.5V757.3M1316.43 787V790.5" stroke="#00B0F6" stroke-width="2.13" fill="none"/>
<rect x="1308.04" y="757.3" width="16.78" height="29.7" fill="#fff" stroke="#00B0F6" stroke-width="2.13"/>
<line x1="1308.04" x2="1324.82" y1="778.8" y2="778.8" stroke="#00B0F6" stroke-width="4.26"/>
<circle cx="1335.08" cy="569.5" r="4.6" fill="#E76BF3"/>
<path d="M1335.08 644.5V725.2M1335.08 782V788.3" stroke="#E76BF3" stroke-width="2.13" fill="none"/>
<rect x="1326.69" y="725.2" width="16.78" height="56.8" fill="#fff" stroke="#E76BF3" stroke-width="2.13"/>
<line x1="1326.69" x2="1343.47" y1="771.7" y2="771.7" stroke="#E76BF3" stroke-width="4.26"/>
<path d="M1384.8 568.75V688.25M1384.8 786.7V790.5" stroke="#F8766D" stroke-width="2.13" fill="none"/>
<rect x="1376.41" y="688.25" width="16.78" height="98.45" fill="#fff" stroke="#F8766D" stroke-width="2.13"/>
<line x1="1376.41" x2="1393.19" y1="772.8" y2="772.8" stroke="#F8766D" stroke-width="4.26"/>
<path d="M1403.45 727V746.3M1403.45 788.3V791.2" stroke="#A3A500" stroke-width="2.13" fill="none"/>
<rect x="1395.06" y="746.3" width="16.78" height="42" fill="#fff" stroke="#A3A500" stroke-width="2.13"/>
<line x1="1395.06" x2="1411.84" y1="779.7" y2="779.7" stroke="#A3A500" stroke-width="4.26"/>
<path d="M1422.1 663.75V722.2M1422.1 787V790.5" stroke="#00BF7D" stroke-width="2.13" fill="none"/>
<rect x="1413.7" y="722.2" width="16.78" height="64.8" fill="#fff" stroke="#00BF7D" stroke-width="2.13"/>
<line x1="1413.7" x2="1430.49" y1="776.7" y2="776.7" stroke="#00BF7D" stroke-width="4.26"/>
<path d="M1440.74 690V726M1440.74 785V791.2" stroke="#00B0F6" stroke-width="2.13" fill="none"/>
<rect x="1432.35" y="726" width="16.78" height="59" fill="#fff" stroke="#00B0F6" stroke-width="2.13"/>
<line x1="1432.35" x2="1449.13" y1="768" y2="768" stroke="#00B0F6" stroke-width="4.26"/>
<path d="M1459.39 576.25V671.25M1459.39 775.8V789.7" stroke="#E76BF3" stroke-width="2.13" fill="none"/>
<rect x="1451" y="671.25" width="16.78" height="104.55" fill="#fff" stroke="#E76BF3" stroke-width="2.13"/>
<line x1="1451" x2="1467.78" y1="761.2" y2="761.2" stroke="#E76BF3" stroke-width="4.26"/>
<circle cx="1509.11" cy="570" r="4.6" fill="#F8766D"/>
<circle cx="1509.11" cy="574.5" r="4.6" fill="#F8766D"/>
<circle cx="1509.11" cy="610.25" r="4.6" fill="#F8766D"/>
<circle cx="1509.11" cy="623.75" r="4.6" fill="#F8766D"/>
<circle cx="1509.11" cy="727.1" r="4.6" fill="#F8766D"/>
<path d="M1509.11 735.5V764.7M1509.11 788.7V791.2" stroke="#F8766D" stroke-width="2.13" fill="none"/>
<rect x="1500.72" y="764.7" width="16.78" height="24" fill="#fff" stroke="#F8766D" stroke-width="2.13"/>
<line x1="1500.72" x2="1517.5" y1="785" y2="785" stroke="#F8766D" stroke-width="4.26"/>
<circle cx="1527.76" cy="725" r="4.6" fill="#A3A500"/>
<circle cx="1527.76" cy="730.8" r="4.6" fill="#A3A500"/>
<circle cx="1527.76" cy="736.6" r="4.6" fill="#A3A500"/>
<path d="M1527.76 758.1V772.2M1527.76 789.2V791.2" stroke="#A3A500" stroke-width="2.13" fill="none"/>
<rect x="1519.37" y="772.2" width="16.78" height="17" fill="#fff" stroke="#A3A500" stroke-width="2.13"/>
<line x1="1519.37" x2="1536.15" y1="787" y2="787" stroke="#A3A500" stroke-width="4.26"/>
<circle cx="1546.4" cy="667" r="4.6" fill="#00BF7D"/>
<circle cx="1546.4" cy="685" r="4.6" fill="#00BF7D"/>
<circle cx="1546.4" cy="692.5" r="4.6" fill="#00BF7D"/>
<circle cx="1546.4" cy="706.8" r="4.6" fill="#00BF7D"/>
<path d="M1546.4 742.3V767.4M1546.4 788.7V791.2" stroke="#00BF7D" stroke-width="2.13" fill="none"/>
<rect x="1538.01" y="767.4" width="16.78" height="21.3" fill="#fff" stroke="#00BF7D" stroke-width="2.13"/>
<line x1="1538.01" x2="1554.8" y1="786.3" y2="786.3" stroke="#00BF7D" stroke-width="4.26"/>
<circle cx="1565.05" cy="692.5" r="4.6" fill="#00B0F6"/>
<path d="M1565.05 702.2V752.5M1565.05 786.7V790" stroke="#00B0F6" stroke-width="2.13" fill="none"/>
<rect x="1556.66" y="752.5" width="16.78" height="34.2" fill="#fff" stroke="#00B0F6" stroke-width="2.13"/>
<line x1="1556.66" x2="1573.44" y1="778.3" y2="778.3" stroke="#00B0F6" stroke-width="4.26"/>
<circle cx="1583.7" cy="589.5" r="4.6" fill="#E76BF3"/>
<circle cx="1583.7" cy="597.5" r="4.6" fill="#E76BF3"/>
<circle cx="1583.7" cy="627.5" r="4.6" fill="#E76BF3"/>
<circle cx="1583.7" cy="652.5" r="4.6" fill="#E76BF3"/>
<path d="M1583.7 690.5V734.8M1583.7 780.8V786.3" stroke="#E76BF3" stroke-width="2.13" fill="none"/>
<rect x="1575.31" y="734.8" width="16.78" height="46" fill="#fff" stroke="#E76BF3" stroke-width="2.13"/>
<line x1="1575.31" x2="1592.09" y1="772.8" y2="772.8" stroke="#E76BF3" stroke-width="4.26"/>
<circle cx="1633.42" cy="608.25" r="4.6" fill="#F8766D"/>
<path d="M1633.42 655.75V730.6M1633.42 781.7V791.2" stroke="#F8766D" stroke-width="2.13" fill="none"/>
<rect x="1625.03" y="730.6" width="16.78" height="51.1" fill="#fff" stroke="#F8766D" stroke-width="2.13"/>
<line x1="1625.03" x2="1641.81" y1="764.8" y2="764.8" stroke="#F8766D" stroke-width="4.26"/>
<circle cx="1652.07" cy="704.2" r="4.6" fill="#A3A500"/>
<path d="M1652.07 723.7V758.1M1652.07 784.5V791.2" stroke="#A3A500" stroke-width="2.13" fill="none"/>
<rect x="1643.68" y="758.1" width="16.78" height="26.4" fill="#fff" stroke="#A3A500" stroke-width="2.13"/>
<line x1="1643.68" x2="1660.46" y1="773.7" y2="773.7" stroke="#A3A500" stroke-width="4.26"/>
<circle cx="1670.71" cy="665.75" r="4.6" fill="#00BF7D"/>
<circle cx="1670.71" cy="693.5" r="4.6" fill="#00BF7D"/>
<path d="M1670.71 722.9V747.3M1670.71 782.5V791.2" stroke="#00BF7D" stroke-width="2.13" fill="none"/>
<rect x="1662.32" y="747.3" width="16.78" height="35.2" fill="#fff" stroke="#00BF7D" stroke-width="2.13"/>
<line x1="1662.32" x2="1679.11" y1="769.5" y2="769.5" stroke="#00BF7D" stroke-width="4.26"/>
<circle cx="1689.36" cy="630.5" r="4.6" fill="#00B0F6"/>
<circle cx="1689.36" cy="668.5" r="4.6" fill="#00B0F6"/>
<path d="M1689.36 731V737.5M1689.36 774.2V790.8" stroke="#00B0F6" stroke-width="2.13" fill="none"/>
<rect x="1680.97" y="737.5" width="16.78" height="36.7" fill="#fff" stroke="#00B0F6" stroke-width="2.13"/>
<line x1="1680.97" x2="1697.75" y1="762.9" y2="762.9" stroke="#00B0F6" stroke-width="4.26"/>
<circle cx="1708.01" cy="428.75" r="4.6" fill="#E76BF3"/>
<circle cx="1708.01" cy="527.75" r="4.6" fill="#E76BF3"/>
<path d="M1708.01 684.5V718.1M1708.01 767.8V787.8" stroke="#E76BF3" stroke-width="2.13" fill="none"/>
<rect x="1699.62" y="718.1" width="16.78" height="49.7" fill="#fff" stroke="#E76BF3" stroke-width="2.13"/>
<line x1="1699.62" x2="1716.4" y1="749.3" y2="749.3" stroke="#E76BF3" stroke-width="4.26"/>
</g>
<g>
<circle cx="191.89" cy="1013.5" r="4.6" fill="#F8766D"/>
<circle cx="191.89" cy="1061.2" r="4.6" fill="#F8766D"/>
<path d="M191.89 956.7V972.6M191.89 986.3V997.6" stroke="#F8766D" stroke-width="2.13" fill="none"/>
<rect x="183.5" y="972.6" width="16.78" height="13.7" fill="#fff" stroke="#F8766D" stroke-width="2.13"/>
<line x1="183.5" x2="200.28" y1="978.8" y2="978.8" stroke="#F8766D" stroke-width="4.26"/>
<circle cx="210.54" cy="919.7" r="4.6" fill="#A3A500"/>
<path d="M210.54 972.6V1006M210.54 1042.7V1089.4" stroke="#A3A500" stroke-width="2.13" fill="none"/>
<rect x="202.15" y="1006" width="16.78" height="36.7" fill="#fff" stroke="#A3A500" stroke-width="2.13"/>
<line x1="202.15" x2="218.93" y1="1029.3" y2="1029.3" stroke="#A3A500" stroke-width="4.26"/>
<circle cx="229.19" cy="934.4" r="4.6" fill="#00BF7D"/>
<circle cx="229.19" cy="1019.7" r="4.6" fill="#00BF7D"/>
<circle cx="229.19" cy="1025.7" r="4.6" fill="#00BF7D"/>
<path d="M229.19 964.3V976.4M229.19 993.5V1015.2" stroke="#00BF7D" stroke-width="2.13" fill="none"/>
<rect x="220.79" y="976.4" width="16.78" height="17.1" fill="#fff" stroke="#00BF7D" stroke-width="2.13"/>
<line x1="220.79" x2="237.58" y1="983.9" y2="983.9" stroke="#00BF7D" stroke-width="4.26"/>
<circle cx="247.83" cy="952.9" r="4.6" fill="#00B0F6"/>
<circle cx="247.83" cy="1025.2" r="4.6" fill="#00B0F6"/>
<path d="M247.83 963.4V983.1M247.83 997.6V1014.8" stroke="#00B0F6" stroke-width="2.13" fill="none"/>
<rect x="239.44" y="983.1" width="16.78" height="14.5" fill="#fff" stroke="#00B0F6" stroke-width="2.13"/>
<line x1="239.44" x2="256.22" y1="990.5" y2="990.5" stroke="#00B0F6" stroke-width="4.26"/>
<path d="M266.48 943.4V971.8M266.48 998.5V1028.5" stroke="#E76BF3" stroke-width="2.13" fill="none"/>
<rect x="258.09" y="971.8" width="16.78" height="26.7" fill="#fff" stroke="#E76BF3" stroke-width="2.13"/>
<line x1="258.09" x2="274.87" y1="984.3" y2="984.3" stroke="#E76BF3" stroke-width="4.26"/>
<circle cx="316.2" cy="1061.2" r="4.6" fill="#F8766D"/>
<path d="M316.2 973.1V996.8M316.2 1016.3V1023.5" stroke="#F8766D" stroke-width="2.13" fill="none"/>
<rect x="307.81" y="996.8" width="16.78" height="19.5" fill="#fff" stroke="#F8766D" stroke-width="2.13"/>
<line x1="307.81" x2="324.59" y1="1007.6" y2="1007.6" stroke="#F8766D" stroke-width="4.26"/>
<circle cx="334.85" cy="1069.9" r="4.6" fill="#A3A500"/>
<circle cx="334.85" cy="1089.8" r="4.6" fill="#A3A500"/>
<circle cx="334.85" cy="1103.3" r="4.6" fill="#A3A500"/>
<circle cx="334.85" cy="1106.4" r="4.6" fill="#A3A500"/>
<path d="M334.85 996.5V1017.7M334.85 1038V1059.4" stroke="#A3A500" stroke-width="2.13" fill="none"/>
<rect x="326.46" y="1017.7" width="16.78" height="20.3" fill="#fff" stroke="#A3A500" stroke-width="2.13"/>
<line x1="326.46" x2="343.24" y1="1029.7" y2="1029.7" stroke="#A3A500" stroke-width="4.26"/>
<circle cx="353.5" cy="1084.7" r="4.6" fill="#00BF7D"/>
<path d="M353.5 990.5V1006.5M353.5 1021.5V1038.5" stroke="#00BF7D" stroke-width="2.13" fill="none"/>
<rect x="345.1" y="1006.5" width="16.78" height="15" fill="#fff" stroke="#00BF7D" stroke-width="2.13"/>
<line x1="345.1" x2="361.89" y1="1013.8" y2="1013.8" stroke="#00BF7D" stroke-width="4.26"/>
<circle cx="372.14" cy="947.7" r="4.6" fill="#00B0F6"/>
<circle cx="372.14" cy="1058.2" r="4.6" fill="#00B0F6"/>
<path d="M372.14 971.4V990.1M372.14 1009V1028.2" stroke="#00B0F6" stroke-width="2.13" fill="none"/>
<rect x="363.75" y="990.1" width="16.78" height="18.9" fill="#fff" stroke="#00B0F6" stroke-width="2.13"/>
<line x1="363.75" x2="380.53" y1="996.8" y2="996.8" stroke="#00B0F6" stroke-width="4.26"/>
<circle cx="390.79" cy="974.1" r="4.6" fill="#E76BF3"/>
<circle cx="390.79" cy="1020.7" r="4.6" fill="#E76BF3"/>
<circle cx="390.79" cy="1027.2" r="4.6" fill="#E76BF3"/>
<path d="M390.79 982.3V992.6M390.79 1002.6V1008.8" stroke="#E76BF3" stroke-width="2.13" fill="none"/>
<rect x="382.4" y="992.6" width="16.78" height="10" fill="#fff" stroke="#E76BF3" stroke-width="2.13"/>
<line x1="382.4" x2="399.18" y1="997.6" y2="997.6" stroke="#E76BF3" stroke-width="4.26"/>
<path d="M440.51 979.5V1014.3M440.51 1051.4V1106.6" stroke="#F8766D" stroke-width="2.13" fill="none"/>
<rect x="432.12" y="1014.3" width="16.78" height="37.1" fill="#fff" stroke="#F8766D" stroke-width="2.13"/>
<line x1="432.12" x2="448.9" y1="1036" y2="1036" stroke="#F8766D" stroke-width="4.26"/>
<circle cx="459.16" cy="975.9" r="4.6" fill="#A3A500"/>
<path d="M459.16 1010.1V1036M459.16 1060.2V1081.9" stroke="#A3A500" stroke-width="2.13" fill="none"/>
<rect x="450.77" y="1036" width="16.78" height="24.2" fill="#fff" stroke="#A3A500" stroke-width="2.13"/>
<line x1="450.77" x2="467.55" y1="1045.5" y2="1045.5" stroke="#A3A500" stroke-width="4.26"/>
<circle cx="477.8" cy="1089.4" r="4.6" fill="#00BF7D"/>
<path d="M477.8 1011.5V1025.5M477.8 1049.9V1066" stroke="#00BF7D" stroke-width="2.13" fill="none"/>
<rect x="469.41" y="1025.5" width="16.78" height="24.4" fill="#fff" stroke="#00BF7D" stroke-width="2.13"/>
<line x1="469.41" x2="486.2" y1="1041.9" y2="1041.9" stroke="#00BF7D" stroke-width="4.26"/>
<path d="M496.45 978.4V1006M496.45 1034.8V1056" stroke="#00B0F6" stroke-width="2.13" fill="none"/>
<rect x="488.06" y="1006" width="16.78" height="28.8" fill="#fff" stroke="#00B0F6" stroke-width="2.13"/>
<line x1="488.06" x2="504.84" y1="1018" y2="1018" stroke="#00B0F6" stroke-width="4.26"/>
<path d="M515.1 986.3V1006.3M515.1 1047.7V1076.6" stroke="#E76BF3" stroke-width="2.13" fill="none"/>
<rect x="506.71" y="1006.3" width="16.78" height="41.4" fill="#fff" stroke="#E76BF3" stroke-width="2.13"/>
<line x1="506.71" x2="523.49" y1="1028.8" y2="1028.8" stroke="#E76BF3" stroke-width="4.26"/>
<circle cx="564.82" cy="983.9" r="4.6" fill="#F8766D"/>
<circle cx="564.82" cy="1171.1" r="4.6" fill="#F8766D"/>
<path d="M564.82 1030.5V1051.5M564.82 1079.9V1092.4" stroke="#F8766D" stroke-width="2.13" fill="none"/>
<rect x="556.43" y="1051.5" width="16.78" height="28.4" fill="#fff" stroke="#F8766D" stroke-width="2.13"/>
<line x1="556.43" x2="573.21" y1="1063.9" y2="1063.9" stroke="#F8766D" stroke-width="4.26"/>
<circle cx="583.47" cy="971.8" r="4.6" fill="#A3A500"/>
<circle cx="583.47" cy="1124.5" r="4.6" fill="#A3A500"/>
<circle cx="583.47" cy="1128.1" r="4.6" fill="#A3A500"/>
<path d="M583.47 1018V1055.2M583.47 1080.2V1113.3" stroke="#A3A500" stroke-width="2.13" fill="none"/>
<rect x="575.08" y="1055.2" width="16.78" height="25" fill="#fff" stroke="#A3A500" stroke-width="2.13"/>
<line x1="575.08" x2="591.86" y1="1065.2" y2="1065.2" stroke="#A3A500" stroke-width="4.26"/>
<circle cx="602.11" cy="970.4" r="4.6" fill="#00BF7D"/>
<circle cx="602.11" cy="1007.1" r="4.6" fill="#00BF7D"/>
<circle cx="602.11" cy="1114.8" r="4.6" fill="#00BF7D"/>
<path d="M602.11 1044.4V1053.2M602.11 1076.9V1103.6" stroke="#00BF7D" stroke-width="2.13" fill="none"/>
<rect x="593.72" y="1053.2" width="16.78" height="23.7" fill="#fff" stroke="#00BF7D" stroke-width="2.13"/>
<line x1="593.72" x2="610.51" y1="1057.4" y2="1057.4" stroke="#00BF7D" stroke-width="4.26"/>
<circle cx="620.76" cy="839.4" r="4.6" fill="#00B0F6"/>
<path d="M620.76 983.4V1011M620.76 1080.2V1175.1" stroke="#00B0F6" stroke-width="2.13" fill="none"/>
<rect x="612.37" y="1011" width="16.78" height="69.2" fill="#fff" stroke="#00B0F6" stroke-width="2.13"/>
<line x1="612.37" x2="629.15" y1="1053.9" y2="1053.9" stroke="#00B0F6" stroke-width="4.26"/>
<circle cx="639.41" cy="1179.5" r="4.6" fill="#E76BF3"/>
<circle cx="639.41" cy="1202.1" r="4.6" fill="#E76BF3"/>
<path d="M639.41 957.6V1031.8M639.41 1086.6V1119.5" stroke="#E76BF3" stroke-width="2.13" fill="none"/>
<rect x="631.02" y="1031.8" width="16.78" height="54.8" fill="#fff" stroke="#E76BF3" stroke-width="2.13"/>
<line x1="631.02" x2="647.8" y1="1074.7" y2="1074.7" stroke="#E76BF3" stroke-width="4.26"/>
<line x1="154.6" x2="676.7" y1="968" y2="968" stroke="#000" stroke-width="2.3" stroke-dasharray="9.1 8.34"/>
</g>
<g>
<path d="M726.39 956.7V997.1M726.39 1051.9V1106.6" stroke="#F8766D" stroke-width="2.13" fill="none"/>
<rect x="718" y="997.1" width="16.78" height="54.8" fill="#fff" stroke="#F8766D" stroke-width="2.13"/>
<line x1="718" x2="734.78" y1="1016.5" y2="1016.5" stroke="#F8766D" stroke-width="4.26"/>
<circle cx="745.04" cy="919.7" r="4.6" fill="#A3A500"/>
<path d="M745.04 976.4V1028.5M745.04 1069.9V1127.5" stroke="#A3A500" stroke-width="2.13" fill="none"/>
<rect x="736.65" y="1028.5" width="16.78" height="41.4" fill="#fff" stroke="#A3A500" stroke-width="2.13"/>
<line x1="736.65" x2="753.43" y1="1051" y2="1051" stroke="#A3A500" stroke-width="4.26"/>
<path d="M763.69 984.3V1011M763.69 1052.7V1114.5" stroke="#00BF7D" stroke-width="2.13" fill="none"/>
<rect x="755.29" y="1011" width="16.78" height="41.7" fill="#fff" stroke="#00BF7D" stroke-width="2.13"/>
<line x1="755.29" x2="772.08" y1="1028.2" y2="1028.2" stroke="#00BF7D" stroke-width="4.26"/>
<circle cx="782.33" cy="839.4" r="4.6" fill="#00B0F6"/>
<circle cx="782.33" cy="1080.9" r="4.6" fill="#00B0F6"/>
<circle cx="782.33" cy="1124" r="4.6" fill="#00B0F6"/>
<circle cx="782.33" cy="1147.9" r="4.6" fill="#00B0F6"/>
<circle cx="782.33" cy="1175.5" r="4.6" fill="#00B0F6"/>
<path d="M782.33 947.9V990.1M782.33 1023V1058.5" stroke="#00B0F6" stroke-width="2.13" fill="none"/>
<rect x="773.94" y="990.1" width="16.78" height="32.9" fill="#fff" stroke="#00B0F6" stroke-width="2.13"/>
<line x1="773.94" x2="790.72" y1="1001.3" y2="1001.3" stroke="#00B0F6" stroke-width="4.26"/>
<circle cx="800.98" cy="1094.1" r="4.6" fill="#E76BF3"/>
<circle cx="800.98" cy="1115.8" r="4.6" fill="#E76BF3"/>
<circle cx="800.98" cy="1179.5" r="4.6" fill="#E76BF3"/>
<circle cx="800.98" cy="1202.2" r="4.6" fill="#E76BF3"/>
<path d="M800.98 957.6V997.1M800.98 1033.8V1079.4" stroke="#E76BF3" stroke-width="2.13" fill="none"/>
<rect x="792.59" y="997.1" width="16.78" height="36.7" fill="#fff" stroke="#E76BF3" stroke-width="2.13"/>
<line x1="792.59" x2="809.37" y1="1001.8" y2="1001.8" stroke="#E76BF3" stroke-width="4.26"/>
<circle cx="850.7" cy="1171.1" r="4.6" fill="#F8766D"/>
<path d="M850.7 969.3V997.3M850.7 1062.2V1078.9" stroke="#F8766D" stroke-width="2.13" fill="none"/>
<rect x="842.31" y="997.3" width="16.78" height="64.9" fill="#fff" stroke="#F8766D" stroke-width="2.13"/>
<line x1="842.31" x2="859.09" y1="1023" y2="1023" stroke="#F8766D" stroke-width="4.26"/>
<circle cx="869.35" cy="996.3" r="4.6" fill="#A3A500"/>
<circle cx="869.35" cy="1114" r="4.6" fill="#A3A500"/>
<path d="M869.35 1029.8V1039.7M869.35 1066.1V1081.9" stroke="#A3A500" stroke-width="2.13" fill="none"/>
<rect x="860.96" y="1039.7" width="16.78" height="26.4" fill="#fff" stroke="#A3A500" stroke-width="2.13"/>
<line x1="860.96" x2="877.74" y1="1057.4" y2="1057.4" stroke="#A3A500" stroke-width="4.26"/>
<path d="M888 985.4V1011M888 1055.7V1096.6" stroke="#00BF7D" stroke-width="2.13" fill="none"/>
<rect x="879.6" y="1011" width="16.78" height="44.7" fill="#fff" stroke="#00BF7D" stroke-width="2.13"/>
<line x1="879.6" x2="896.39" y1="1034.3" y2="1034.3" stroke="#00BF7D" stroke-width="4.26"/>
<path d="M906.64 973.4V998.8M906.64 1039.4V1050.2" stroke="#00B0F6" stroke-width="2.13" fill="none"/>
<rect x="898.25" y="998.8" width="16.78" height="40.6" fill="#fff" stroke="#00B0F6" stroke-width="2.13"/>
<line x1="898.25" x2="915.03" y1="1008.8" y2="1008.8" stroke="#00B0F6" stroke-width="4.26"/>
<circle cx="925.29" cy="1119.4" r="4.6" fill="#E76BF3"/>
<path d="M925.29 985.4V1001.8M925.29 1043V1058.5" stroke="#E76BF3" stroke-width="2.13" fill="none"/>
<rect x="916.9" y="1001.8" width="16.78" height="41.2" fill="#fff" stroke="#E76BF3" stroke-width="2.13"/>
<line x1="916.9" x2="933.68" y1="1025.5" y2="1025.5" stroke="#E76BF3" stroke-width="4.26"/>
<path d="M975.01 969.3V982.9M975.01 1037.7V1083.6" stroke="#F8766D" stroke-width="2.13" fill="none"/>
<rect x="966.62" y="982.9" width="16.78" height="54.8" fill="#fff" stroke="#F8766D" stroke-width="2.13"/>
<line x1="966.62" x2="983.4" y1="999.8" y2="999.8" stroke="#F8766D" stroke-width="4.26"/>
<path d="M993.66 972.6V1016.8M993.66 1051.4V1081.4" stroke="#A3A500" stroke-width="2.13" fill="none"/>
<rect x="985.27" y="1016.8" width="16.78" height="34.6" fill="#fff" stroke="#A3A500" stroke-width="2.13"/>
<line x1="985.27" x2="1002.05" y1="1029.7" y2="1029.7" stroke="#A3A500" stroke-width="4.26"/>
<path d="M1012.3 971.4V980.1M1012.3 1048.9V1086.1" stroke="#00BF7D" stroke-width="2.13" fill="none"/>
<rect x="1003.91" y="980.1" width="16.78" height="68.8" fill="#fff" stroke="#00BF7D" stroke-width="2.13"/>
<line x1="1003.91" x2="1020.7" y1="1003.1" y2="1003.1" stroke="#00BF7D" stroke-width="4.26"/>
<circle cx="1030.95" cy="1088.8" r="4.6" fill="#00B0F6"/>
<path d="M1030.95 976.8V989.8M1030.95 1028V1085.2" stroke="#00B0F6" stroke-width="2.13" fill="none"/>
<rect x="1022.56" y="989.8" width="16.78" height="38.2" fill="#fff" stroke="#00B0F6" stroke-width="2.13"/>
<line x1="1022.56" x2="1039.34" y1="999.6" y2="999.6" stroke="#00B0F6" stroke-width="4.26"/>
<path d="M1049.6 963.4V985.1M1049.6 1034.8V1087.4" stroke="#E76BF3" stroke-width="2.13" fill="none"/>
<rect x="1041.21" y="985.1" width="16.78" height="49.7" fill="#fff" stroke="#E76BF3" stroke-width="2.13"/>
<line x1="1041.21" x2="1057.99" y1="995.1" y2="995.1" stroke="#E76BF3" stroke-width="4.26"/>
<path d="M1099.32 970.1V980.1M1099.32 1021.8V1068.6" stroke="#F8766D" stroke-width="2.13" fill="none"/>
<rect x="1090.93" y="980.1" width="16.78" height="41.7" fill="#fff" stroke="#F8766D" stroke-width="2.13"/>
<line x1="1090.93" x2="1107.71" y1="1007.6" y2="1007.6" stroke="#F8766D" stroke-width="4.26"/>
<circle cx="1117.97" cy="972.3" r="4.6" fill="#A3A500"/>
<circle cx="1117.97" cy="1073.5" r="4.6" fill="#A3A500"/>
<path d="M1117.97 1002.3V1023.2M1117.97 1036.9V1042.7" stroke="#A3A500" stroke-width="2.13" fill="none"/>
<rect x="1109.58" y="1023.2" width="16.78" height="13.7" fill="#fff" stroke="#A3A500" stroke-width="2.13"/>
<line x1="1109.58" x2="1126.36" y1="1033.5" y2="1033.5" stroke="#A3A500" stroke-width="4.26"/>
<path d="M1136.61 934.5V975.9M1136.61 1027.7V1054.7" stroke="#00BF7D" stroke-width="2.13" fill="none"/>
<rect x="1128.22" y="975.9" width="16.78" height="51.8" fill="#fff" stroke="#00BF7D" stroke-width="2.13"/>
<line x1="1128.22" x2="1145.01" y1="1014.8" y2="1014.8" stroke="#00BF7D" stroke-width="4.26"/>
<path d="M1155.26 953.4V987.6M1155.26 1023V1057.4" stroke="#00B0F6" stroke-width="2.13" fill="none"/>
<rect x="1146.87" y="987.6" width="16.78" height="35.4" fill="#fff" stroke="#00B0F6" stroke-width="2.13"/>
<line x1="1146.87" x2="1163.65" y1="1010.5" y2="1010.5" stroke="#00B0F6" stroke-width="4.26"/>
<path d="M1173.91 943.4V972.9M1173.91 1023.5V1047.4" stroke="#E76BF3" stroke-width="2.13" fill="none"/>
<rect x="1165.52" y="972.9" width="16.78" height="50.6" fill="#fff" stroke="#E76BF3" stroke-width="2.13"/>
<line x1="1165.52" x2="1182.3" y1="1004.6" y2="1004.6" stroke="#E76BF3" stroke-width="4.26"/>
<line x1="689.1" x2="1210.8" y1="968" y2="968" stroke="#000" stroke-width="2.3" stroke-dasharray="9.1 8.34"/>
</g>
<g>
<path d="M1260.49 964.3V989.6M1260.49 1045.2V1092.4" stroke="#F8766D" stroke-width="2.13" fill="none"/>
<rect x="1252.1" y="989.6" width="16.78" height="55.6" fill="#fff" stroke="#F8766D" stroke-width="2.13"/>
<line x1="1252.1" x2="1268.88" y1="1013.8" y2="1013.8" stroke="#F8766D" stroke-width="4.26"/>
<circle cx="1279.14" cy="975.9" r="4.6" fill="#A3A500"/>
<path d="M1279.14 996.3V1029.8M1279.14 1064.4V1105.6" stroke="#A3A500" stroke-width="2.13" fill="none"/>
<rect x="1270.75" y="1029.8" width="16.78" height="34.6" fill="#fff" stroke="#A3A500" stroke-width="2.13"/>
<line x1="1270.75" x2="1287.53" y1="1043" y2="1043" stroke="#A3A500" stroke-width="4.26"/>
<path d="M1297.79 964.6V1004.8M1297.79 1047.7V1084.4" stroke="#00BF7D" stroke-width="2.13" fill="none"/>
<rect x="1289.39" y="1004.8" width="16.78" height="42.9" fill="#fff" stroke="#00BF7D" stroke-width="2.13"/>
<line x1="1289.39" x2="1306.18" y1="1014.3" y2="1014.3" stroke="#00BF7D" stroke-width="4.26"/>
<circle cx="1316.43" cy="839.4" r="4.6" fill="#00B0F6"/>
<path d="M1316.43 963.4V992.1M1316.43 1043.9V1085.2" stroke="#00B0F6" stroke-width="2.13" fill="none"/>
<rect x="1308.04" y="992.1" width="16.78" height="51.8" fill="#fff" stroke="#00B0F6" stroke-width="2.13"/>
<line x1="1308.04" x2="1324.82" y1="1000.5" y2="1000.5" stroke="#00B0F6" stroke-width="4.26"/>
<path d="M1335.08 957.6V989M1335.08 1043V1093.6" stroke="#E76BF3" stroke-width="2.13" fill="none"/>
<rect x="1326.69" y="989" width="16.78" height="54" fill="#fff" stroke="#E76BF3" stroke-width="2.13"/>
<line x1="1326.69" x2="1343.47" y1="1001.8" y2="1001.8" stroke="#E76BF3" stroke-width="4.26"/>
<path d="M1384.8 969.3V995.1M1384.8 1056.5V1106.4" stroke="#F8766D" stroke-width="2.13" fill="none"/>
<rect x="1376.41" y="995.1" width="16.78" height="61.4" fill="#fff" stroke="#F8766D" stroke-width="2.13"/>
<line x1="1376.41" x2="1393.19" y1="1020.2" y2="1020.2" stroke="#F8766D" stroke-width="4.26"/>
<circle cx="1403.45" cy="919.7" r="4.6" fill="#A3A500"/>
<circle cx="1403.45" cy="972.3" r="4.6" fill="#A3A500"/>
<path d="M1403.45 1013.5V1032.3M1403.45 1061.4V1094.4" stroke="#A3A500" stroke-width="2.13" fill="none"/>
<rect x="1395.06" y="1032.3" width="16.78" height="29.1" fill="#fff" stroke="#A3A500" stroke-width="2.13"/>
<line x1="1395.06" x2="1411.84" y1="1041.9" y2="1041.9" stroke="#A3A500" stroke-width="4.26"/>
<path d="M1422.1 934.5V996.5M1422.1 1050.7V1066.1" stroke="#00BF7D" stroke-width="2.13" fill="none"/>
<rect x="1413.7" y="996.5" width="16.78" height="54.2" fill="#fff" stroke="#00BF7D" stroke-width="2.13"/>
<line x1="1413.7" x2="1430.49" y1="1025.5" y2="1025.5" stroke="#00BF7D" stroke-width="4.26"/>
<circle cx="1440.74" cy="952.9" r="4.6" fill="#00B0F6"/>
<circle cx="1440.74" cy="1069.9" r="4.6" fill="#00B0F6"/>
<circle cx="1440.74" cy="1147.5" r="4.6" fill="#00B0F6"/>
<path d="M1440.74 982.9V1001M1440.74 1027.2V1048.5" stroke="#00B0F6" stroke-width="2.13" fill="none"/>
<rect x="1432.35" y="1001" width="16.78" height="26.2" fill="#fff" stroke="#00B0F6" stroke-width="2.13"/>
<line x1="1432.35" x2="1449.13" y1="1020.2" y2="1020.2" stroke="#00B0F6" stroke-width="4.26"/>
<circle cx="1459.39" cy="942.9" r="4.6" fill="#E76BF3"/>
<circle cx="1459.39" cy="1115.6" r="4.6" fill="#E76BF3"/>
<path d="M1459.39 969.3V1003M1459.39 1035.2V1051" stroke="#E76BF3" stroke-width="2.13" fill="none"/>
<rect x="1451" y="1003" width="16.78" height="32.2" fill="#fff" stroke="#E76BF3" stroke-width="2.13"/>
<line x1="1451" x2="1467.78" y1="1024" y2="1024" stroke="#E76BF3" stroke-width="4.26"/>
<circle cx="1509.11" cy="1171.1" r="4.6" fill="#F8766D"/>
<path d="M1509.11 956.7V987.6M1509.11 1044.9V1083.6" stroke="#F8766D" stroke-width="2.13" fill="none"/>
<rect x="1500.72" y="987.6" width="16.78" height="57.3" fill="#fff" stroke="#F8766D" stroke-width="2.13"/>
<line x1="1500.72" x2="1517.5" y1="1013.3" y2="1013.3" stroke="#F8766D" stroke-width="4.26"/>
<circle cx="1527.76" cy="972.1" r="4.6" fill="#A3A500"/>
<circle cx="1527.76" cy="1113.7" r="4.6" fill="#A3A500"/>
<circle cx="1527.76" cy="1127.9" r="4.6" fill="#A3A500"/>
<path d="M1527.76 1002.6V1026M1527.76 1059.9V1089.4" stroke="#A3A500" stroke-width="2.13" fill="none"/>
<rect x="1519.37" y="1026" width="16.78" height="33.9" fill="#fff" stroke="#A3A500" stroke-width="2.13"/>
<line x1="1519.37" x2="1536.15" y1="1041.9" y2="1041.9" stroke="#A3A500" stroke-width="4.26"/>
<path d="M1546.4 965.9V1003.5M1546.4 1049.4V1103.6" stroke="#00BF7D" stroke-width="2.13" fill="none"/>
<rect x="1538.01" y="1003.5" width="16.78" height="45.9" fill="#fff" stroke="#00BF7D" stroke-width="2.13"/>
<line x1="1538.01" x2="1554.8" y1="1025.2" y2="1025.2" stroke="#00BF7D" stroke-width="4.26"/>
<circle cx="1565.05" cy="1080" r="4.6" fill="#00B0F6"/>
<circle cx="1565.05" cy="1088.5" r="4.6" fill="#00B0F6"/>
<circle cx="1565.05" cy="1175" r="4.6" fill="#00B0F6"/>
<path d="M1565.05 947.9V985.9M1565.05 1015.2V1050.2" stroke="#00B0F6" stroke-width="2.13" fill="none"/>
<rect x="1556.66" y="985.9" width="16.78" height="29.3" fill="#fff" stroke="#00B0F6" stroke-width="2.13"/>
<line x1="1556.66" x2="1573.44" y1="1002.3" y2="1002.3" stroke="#00B0F6" stroke-width="4.26"/>
<circle cx="1583.7" cy="1119.5" r="4.6" fill="#E76BF3"/>
<circle cx="1583.7" cy="1179.5" r="4.6" fill="#E76BF3"/>
<path d="M1583.7 964.3V991M1583.7 1033V1087.4" stroke="#E76BF3" stroke-width="2.13" fill="none"/>
<rect x="1575.31" y="991" width="16.78" height="42" fill="#fff" stroke="#E76BF3" stroke-width="2.13"/>
<line x1="1575.31" x2="1592.09" y1="1001.8" y2="1001.8" stroke="#E76BF3" stroke-width="4.26"/>
<path d="M1633.42 961.7V981.8M1633.42 1049.7V1084.4" stroke="#F8766D" stroke-width="2.13" fill="none"/>
<rect x="1625.03" y="981.8" width="16.78" height="67.9" fill="#fff" stroke="#F8766D" stroke-width="2.13"/>
<line x1="1625.03" x2="1641.81" y1="1002.1" y2="1002.1" stroke="#F8766D" stroke-width="4.26"/>
<path d="M1652.07 987.6V1014.3M1652.07 1059.9V1124.8" stroke="#A3A500" stroke-width="2.13" fill="none"/>
<rect x="1643.68" y="1014.3" width="16.78" height="45.6" fill="#fff" stroke="#A3A500" stroke-width="2.13"/>
<line x1="1643.68" x2="1660.46" y1="1031.3" y2="1031.3" stroke="#A3A500" stroke-width="4.26"/>
<path d="M1670.71 974.3V984.6M1670.71 1052.2V1114.5" stroke="#00BF7D" stroke-width="2.13" fill="none"/>
<rect x="1662.32" y="984.6" width="16.78" height="67.6" fill="#fff" stroke="#00BF7D" stroke-width="2.13"/>
<line x1="1662.32" x2="1679.11" y1="1010.6" y2="1010.6" stroke="#00BF7D" stroke-width="4.26"/>
<circle cx="1689.36" cy="1058.2" r="4.6" fill="#00B0F6"/>
<circle cx="1689.36" cy="1061.5" r="4.6" fill="#00B0F6"/>
<circle cx="1689.36" cy="1124" r="4.6" fill="#00B0F6"/>
<path d="M1689.36 973.4V990.5M1689.36 1008V1010.5" stroke="#00B0F6" stroke-width="2.13" fill="none"/>
<rect x="1680.97" y="990.5" width="16.78" height="17.5" fill="#fff" stroke="#00B0F6" stroke-width="2.13"/>
<line x1="1680.97" x2="1697.75" y1="1002.3" y2="1002.3" stroke="#00B0F6" stroke-width="4.26"/>
<circle cx="1708.01" cy="1074.6" r="4.6" fill="#E76BF3"/>
<circle cx="1708.01" cy="1201.8" r="4.6" fill="#E76BF3"/>
<path d="M1708.01 963.4V985.1M1708.01 1019V1024.3" stroke="#E76BF3" stroke-width="2.13" fill="none"/>
<rect x="1699.62" y="985.1" width="16.78" height="33.9" fill="#fff" stroke="#E76BF3" stroke-width="2.13"/>
<line x1="1699.62" x2="1716.4" y1="1002.3" y2="1002.3" stroke="#E76BF3" stroke-width="4.26"/>
<line x1="1223.2" x2="1745.7" y1="968" y2="968" stroke="#000" stroke-width="2.3" stroke-dasharray="9.1 8.34"/>
</g>
<path d="M715.1 432.5V438.7M715.1 456.3V462.5" stroke="#F8766D" stroke-width="2"/>
<rect x="701.75" y="438.7" width="26.7" height="17.6" fill="#fff" stroke="#F8766D" stroke-width="2"/>
<line x1="701.75" x2="728.45" y1="447.5" y2="447.5" stroke="#F8766D" stroke-width="2"/>
<text x="744" y="456" font-size="24.6" fill="#000">True, Common QTLs</text>
<path d="M715.1 468V474.2M715.1 491.8V498" stroke="#A3A500" stroke-width="2"/>
<rect x="701.75" y="474.2" width="26.7" height="17.6" fill="#fff" stroke="#A3A500" stroke-width="2"/>
<line x1="701.75" x2="728.45" y1="483" y2="483" stroke="#A3A500" stroke-width="2"/>
<text x="744" y="491.5" font-size="24.6" fill="#000">SBayesS, Common QTLs</text>
<path d="M715.1 503.5V509.7M715.1 527.3V533.5" stroke="#00BF7D" stroke-width="2"/>
<rect x="701.75" y="509.7" width="26.7" height="17.6" fill="#fff" stroke="#00BF7D" stroke-width="2"/>
<line x1="701.75" x2="728.45" y1="518.5" y2="518.5" stroke="#00BF7D" stroke-width="2"/>
<text x="744" y="527" font-size="24.6" fill="#000">SBayesRS, Common QTLs</text>
<path d="M715.1 539V545.2M715.1 562.8V569" stroke="#00B0F6" stroke-width="2"/>
<rect x="701.75" y="545.2" width="26.7" height="17.6" fill="#fff" stroke="#00B0F6" stroke-width="2"/>
<line x1="701.75" x2="728.45" y1="554" y2="554" stroke="#00B0F6" stroke-width="2"/>
<text x="744" y="562.5" font-size="24.6" fill="#000">SBayesS, Common SNPs</text>
<path d="M715.1 574.5V580.7M715.1 598.3V604.5" stroke="#E76BF3" stroke-width="2"/>
<rect x="701.75" y="580.7" width="26.7" height="17.6" fill="#fff" stroke="#E76BF3" stroke-width="2"/>
<line x1="701.75" x2="728.45" y1="589.5" y2="589.5" stroke="#E76BF3" stroke-width="2"/>
<text x="744" y="598" font-size="24.6" fill="#000">SBayesRS, Common SNPs</text>
<rect x="154.6" y="0.75" width="522.1" height="397.85" fill="none" stroke="#333" stroke-width="1.6"/>
<rect x="689.1" y="0.75" width="521.7" height="397.85" fill="none" stroke="#333" stroke-width="1.6"/>
<rect x="1223.2" y="0.75" width="522.5" height="397.85" fill="none" stroke="#333" stroke-width="1.6"/>
<rect x="154.6" y="411.3" width="522.1" height="397.6" fill="none" stroke="#333" stroke-width="1.6"/>
<rect x="689.1" y="411.3" width="521.7" height="397.6" fill="none" stroke="#333" stroke-width="1.6"/>
<rect x="1223.2" y="411.3" width="522.5" height="397.6" fill="none" stroke="#333" stroke-width="1.6"/>
<rect x="154.6" y="821.7" width="522.1" height="397.7" fill="none" stroke="#333" stroke-width="1.6"/>
<rect x="689.1" y="821.7" width="521.7" height="397.7" fill="none" stroke="#333" stroke-width="1.6"/>
<rect x="1223.2" y="821.7" width="522.5" height="397.7" fill="none" stroke="#333" stroke-width="1.6"/>
<rect x="109.85" y="0.75" width="44.5" height="397.85" fill="#E5E5E5" stroke="#000" stroke-width="2.15"/>
<text transform="translate(142 199.68) rotate(-90)" text-anchor="middle" font-size="28.7" fill="#1A1A1A">SNP−based heritability</text>
<rect x="109.85" y="411.3" width="44.5" height="397.6" fill="#E5E5E5" stroke="#000" stroke-width="2.15"/>
<text transform="translate(142 610.1) rotate(-90)" text-anchor="middle" font-size="28.7" fill="#1A1A1A">No. nonnull SNPs</text>
<rect x="109.85" y="821.7" width="44.5" height="397.7" fill="#E5E5E5" stroke="#000" stroke-width="2.15"/>
<text transform="translate(142 1020.55) rotate(-90)" text-anchor="middle" font-size="28.7" fill="#1A1A1A">S</text>
<rect x="154.6" y="1220.2" width="522.1" height="44.8" fill="#E5E5E5" stroke="#000" stroke-width="2.15"/>
<text x="415.65" y="1252.7" text-anchor="middle" font-size="28.7" fill="#1A1A1A">Average selection coefficient</text>
<rect x="689.1" y="1220.2" width="521.7" height="44.8" fill="#E5E5E5" stroke="#000" stroke-width="2.15"/>
<text x="949.95" y="1252.7" text-anchor="middle" font-size="28.7" fill="#1A1A1A">Proportion of mutational targets</text>
<rect x="1223.2" y="1220.2" width="522.5" height="44.8" fill="#E5E5E5" stroke="#000" stroke-width="2.15"/>
<text x="1484.45" y="1252.7" text-anchor="middle" font-size="28.7" fill="#1A1A1A">Mutational heritability</text>
<line x1="103.7" x2="109" y1="10.8" y2="10.8" stroke="#333" stroke-width="2"/>
<text x="99.7" y="17.7" text-anchor="end" font-size="22.4" fill="#4D4D4D">1.00</text>
<line x1="103.7" x2="109" y1="103.7" y2="103.7" stroke="#333" stroke-width="2"/>
<text x="99.7" y="110.6" text-anchor="end" font-size="22.4" fill="#4D4D4D">0.75</text>
<line x1="103.7" x2="109" y1="196.6" y2="196.6" stroke="#333" stroke-width="2"/>
<text x="99.7" y="203.5" text-anchor="end" font-size="22.4" fill="#4D4D4D">0.50</text>
<line x1="103.7" x2="109" y1="289.5" y2="289.5" stroke="#333" stroke-width="2"/>
<text x="99.7" y="296.4" text-anchor="end" font-size="22.4" fill="#4D4D4D">0.25</text>
<line x1="103.7" x2="109" y1="382.4" y2="382.4" stroke="#333" stroke-width="2"/>
<text x="99.7" y="389.3" text-anchor="end" font-size="22.4" fill="#4D4D4D">0.00</text>
<line x1="103.7" x2="109" y1="411.5" y2="411.5" stroke="#333" stroke-width="2"/>
<text x="99.7" y="418.4" text-anchor="end" font-size="22.4" fill="#4D4D4D">20000</text>
<line x1="103.7" x2="109" y1="506.5" y2="506.5" stroke="#333" stroke-width="2"/>
<text x="99.7" y="513.4" text-anchor="end" font-size="22.4" fill="#4D4D4D">15000</text>
<line x1="103.7" x2="109" y1="601.5" y2="601.5" stroke="#333" stroke-width="2"/>
<text x="99.7" y="608.4" text-anchor="end" font-size="22.4" fill="#4D4D4D">10000</text>
<line x1="103.7" x2="109" y1="696.5" y2="696.5" stroke="#333" stroke-width="2"/>
<text x="99.7" y="703.4" text-anchor="end" font-size="22.4" fill="#4D4D4D">5000</text>
<line x1="103.7" x2="109" y1="791.5" y2="791.5" stroke="#333" stroke-width="2"/>
<text x="99.7" y="798.4" text-anchor="end" font-size="22.4" fill="#4D4D4D">0</text>
<line x1="103.7" x2="109" y1="839.4" y2="839.4" stroke="#333" stroke-width="2"/>
<text x="99.7" y="846.3" text-anchor="end" font-size="22.4" fill="#4D4D4D">1</text>
<line x1="103.7" x2="109" y1="967.6" y2="967.6" stroke="#333" stroke-width="2"/>
<text x="99.7" y="974.5" text-anchor="end" font-size="22.4" fill="#4D4D4D">0</text>
<line x1="103.7" x2="109" y1="1096" y2="1096" stroke="#333" stroke-width="2"/>
<text x="99.7" y="1102.9" text-anchor="end" font-size="22.4" fill="#4D4D4D">−1</text>
<line x1="229.19" x2="229.19" y1="1266" y2="1270.8" stroke="#333" stroke-width="2"/>
<text transform="translate(240.19 1286.5) rotate(-45)" text-anchor="end" font-size="22.4" fill="#4D4D4D">0.00001 − 0.0001</text>
<line x1="353.5" x2="353.5" y1="1266" y2="1270.8" stroke="#333" stroke-width="2"/>
<text transform="translate(364.5 1286.5) rotate(-45)" text-anchor="end" font-size="22.4" fill="#4D4D4D">0.0001 − 0.001</text>
<line x1="477.8" x2="477.8" y1="1266" y2="1270.8" stroke="#333" stroke-width="2"/>
<text transform="translate(488.8 1286.5) rotate(-45)" text-anchor="end" font-size="22.4" fill="#4D4D4D">0.001 − 0.01</text>
<line x1="602.11" x2="602.11" y1="1266" y2="1270.8" stroke="#333" stroke-width="2"/>
<text transform="translate(613.11 1286.5) rotate(-45)" text-anchor="end" font-size="22.4" fill="#4D4D4D">0.01 − 0.1</text>
<line x1="763.69" x2="763.69" y1="1266" y2="1270.8" stroke="#333" stroke-width="2"/>
<text transform="translate(774.69 1286.5) rotate(-45)" text-anchor="end" font-size="22.4" fill="#4D4D4D">0.001 − 0.005</text>
<line x1="888" x2="888" y1="1266" y2="1270.8" stroke="#333" stroke-width="2"/>
<text transform="translate(899 1286.5) rotate(-45)" text-anchor="end" font-size="22.4" fill="#4D4D4D">0.005 − 0.01</text>
<line x1="1012.3" x2="1012.3" y1="1266" y2="1270.8" stroke="#333" stroke-width="2"/>
<text transform="translate(1023.3 1286.5) rotate(-45)" text-anchor="end" font-size="22.4" fill="#4D4D4D">0.01 − 0.05</text>
<line x1="1136.61" x2="1136.61" y1="1266" y2="1270.8" stroke="#333" stroke-width="2"/>
<text transform="translate(1147.61 1286.5) rotate(-45)" text-anchor="end" font-size="22.4" fill="#4D4D4D">0.05 − 0.1</text>
<line x1="1297.79" x2="1297.79" y1="1266" y2="1270.8" stroke="#333" stroke-width="2"/>
<text transform="translate(1308.79 1286.5) rotate(-45)" text-anchor="end" font-size="22.4" fill="#4D4D4D">0.0001 − 0.0005</text>
<line x1="1422.1" x2="1422.1" y1="1266" y2="1270.8" stroke="#333" stroke-width="2"/>
<text transform="translate(1433.1 1286.5) rotate(-45)" text-anchor="end" font-size="22.4" fill="#4D4D4D">0.0005 − 0.001</text>
<line x1="1546.4" x2="1546.4" y1="1266" y2="1270.8" stroke="#333" stroke-width="2"/>
<text transform="translate(1557.4 1286.5) rotate(-45)" text-anchor="end" font-size="22.4" fill="#4D4D4D">0.001 − 0.005</text>
<line x1="1670.71" x2="1670.71" y1="1266" y2="1270.8" stroke="#333" stroke-width="2"/>
<text transform="translate(1681.71 1286.5) rotate(-45)" text-anchor="end" font-size="22.4" fill="#4D4D4D">0.005 − 0.01</text>
<text transform="translate(24 609.9) rotate(-90)" text-anchor="middle" font-size="32.75" fill="#000">Estimated genetic architecture parameters</text>
<text x="950.8" y="1443.6" text-anchor="middle" font-size="32.75" fill="#000">Input parameters in evolutionary simulations</text>
</svg>
</body></html>
